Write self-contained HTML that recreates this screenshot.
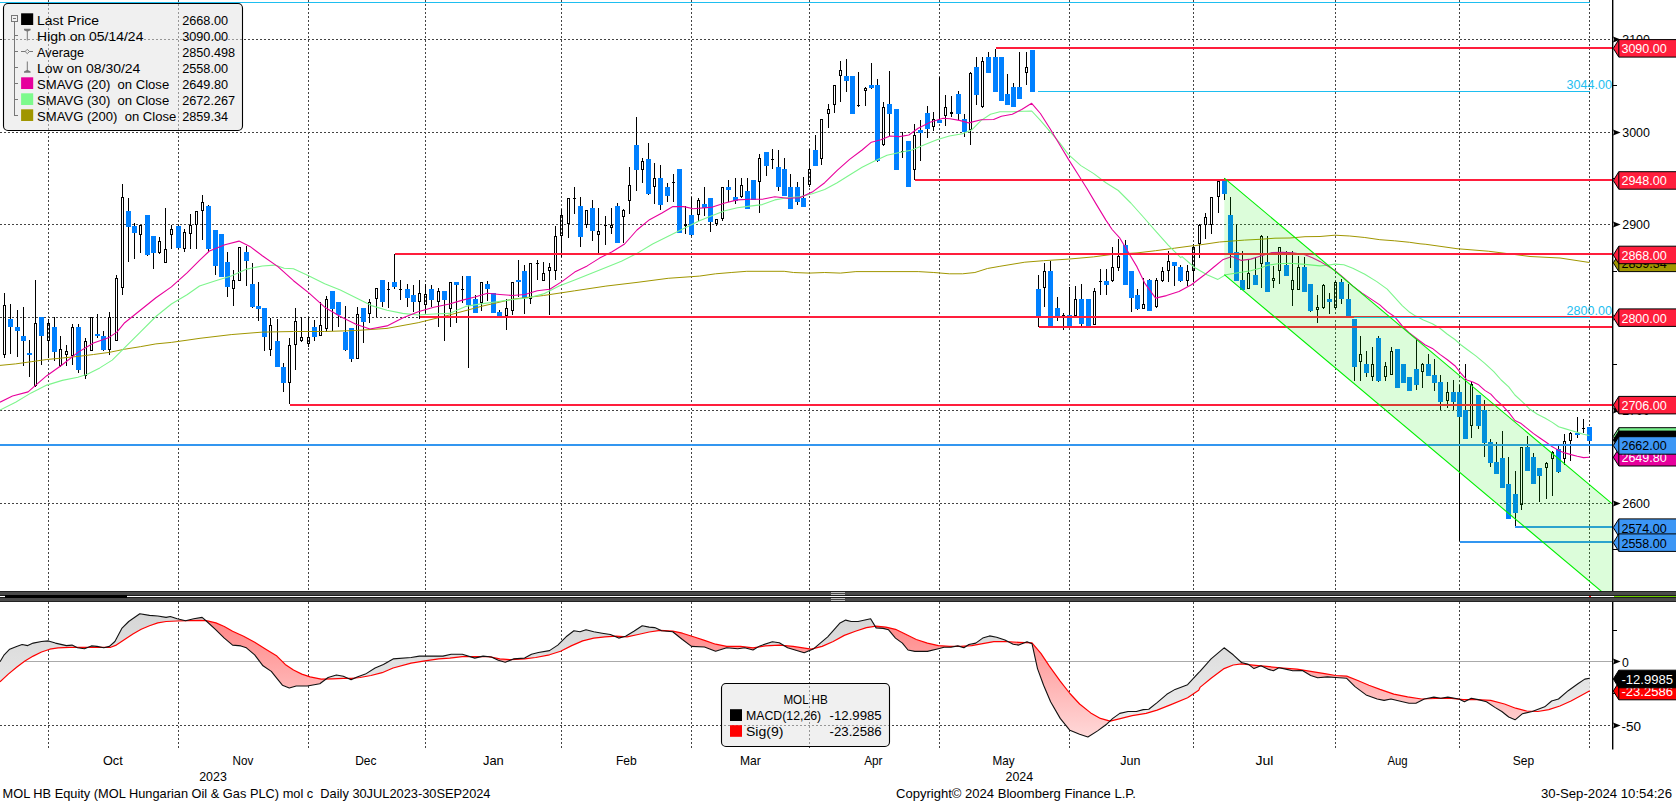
<!DOCTYPE html><html><head><meta charset="utf-8"><title>MOL HB Equity</title>
<style>html,body{margin:0;padding:0;background:#fff;overflow:hidden}svg{display:block}text{font-family:"Liberation Sans",sans-serif}</style></head><body>
<svg width="1676" height="802" viewBox="0 0 1676 802">
<defs><linearGradient id="rg" gradientUnits="userSpaceOnUse" x1="0" y1="612" x2="0" y2="745"><stop offset="0" stop-color="#ff8080"/><stop offset="1" stop-color="#ffdede"/></linearGradient>
<linearGradient id="gg" gradientUnits="userSpaceOnUse" x1="0" y1="612" x2="0" y2="745"><stop offset="0" stop-color="#d6d6d6"/><stop offset="1" stop-color="#f2f2f2"/></linearGradient>
<clipPath id="main"><rect x="0" y="0" width="1612" height="591"/></clipPath></defs>
<rect width="1676" height="802" fill="#fff"/>
<g stroke="#444" stroke-width="1" stroke-dasharray="2 2" shape-rendering="crispEdges" fill="none">
<line x1="0" y1="39.5" x2="1612" y2="39.5"/>
<line x1="0" y1="132.5" x2="1612" y2="132.5"/>
<line x1="0" y1="224.5" x2="1612" y2="224.5"/>
<line x1="0" y1="317.5" x2="1612" y2="317.5"/>
<line x1="0" y1="410.5" x2="1612" y2="410.5"/>
<line x1="0" y1="503.5" x2="1612" y2="503.5"/>
<line x1="48.5" y1="0" x2="48.5" y2="591"/>
<line x1="48.5" y1="602" x2="48.5" y2="748"/>
<line x1="178.5" y1="0" x2="178.5" y2="591"/>
<line x1="178.5" y1="602" x2="178.5" y2="748"/>
<line x1="308.5" y1="0" x2="308.5" y2="591"/>
<line x1="308.5" y1="602" x2="308.5" y2="748"/>
<line x1="425.5" y1="0" x2="425.5" y2="591"/>
<line x1="425.5" y1="602" x2="425.5" y2="748"/>
<line x1="561.5" y1="0" x2="561.5" y2="591"/>
<line x1="561.5" y1="602" x2="561.5" y2="748"/>
<line x1="691.5" y1="0" x2="691.5" y2="591"/>
<line x1="691.5" y1="602" x2="691.5" y2="748"/>
<line x1="809.5" y1="0" x2="809.5" y2="591"/>
<line x1="809.5" y1="602" x2="809.5" y2="748"/>
<line x1="939.5" y1="0" x2="939.5" y2="591"/>
<line x1="939.5" y1="602" x2="939.5" y2="748"/>
<line x1="1069.5" y1="0" x2="1069.5" y2="591"/>
<line x1="1069.5" y1="602" x2="1069.5" y2="748"/>
<line x1="1193.5" y1="0" x2="1193.5" y2="591"/>
<line x1="1193.5" y1="602" x2="1193.5" y2="748"/>
<line x1="1335.5" y1="0" x2="1335.5" y2="591"/>
<line x1="1335.5" y1="602" x2="1335.5" y2="748"/>
<line x1="1459.5" y1="0" x2="1459.5" y2="591"/>
<line x1="1459.5" y1="602" x2="1459.5" y2="748"/>
<line x1="1589.5" y1="0" x2="1589.5" y2="591"/>
<line x1="1589.5" y1="602" x2="1589.5" y2="748"/>
<line x1="0" y1="725.5" x2="1612" y2="725.5"/>
</g>
<line x1="0" y1="661.5" x2="1612" y2="661.5" stroke="#aaa" stroke-width="1" shape-rendering="crispEdges"/>
<g clip-path="url(#main)">
<g shape-rendering="crispEdges">
<path d="M4 293h1v12h-1zM4 355h1v3h-1zM3 305h3v50h-3zM4 306h1v48h-1z" fill="#000" fill-rule="evenodd"/>
<rect x="10" y="304" width="1" height="50" fill="#000"/>
<rect x="8" y="319" width="5" height="8" fill="#0080ff"/>
<rect x="17" y="310" width="1" height="47" fill="#000"/>
<rect x="15" y="327" width="5" height="4" fill="#0080ff"/>
<rect x="23" y="307" width="1" height="59" fill="#000"/>
<rect x="21" y="336" width="5" height="5" fill="#0080ff"/>
<rect x="29" y="340" width="1" height="37" fill="#000"/>
<rect x="27" y="353" width="5" height="2" fill="#0080ff"/>
<path d="M35 280h1v43h-1zM35 386h1v1h-1zM34 323h3v63h-3zM35 324h1v61h-1z" fill="#000" fill-rule="evenodd"/>
<rect x="41" y="317" width="1" height="48" fill="#000"/>
<rect x="39" y="317" width="5" height="19" fill="#0080ff"/>
<path d="M48 319h1v4h-1zM48 341h1v17h-1zM47 323h3v18h-3zM48 324h1v16h-1z" fill="#000" fill-rule="evenodd"/>
<rect x="54" y="317" width="1" height="44" fill="#000"/>
<rect x="52" y="327" width="5" height="25" fill="#0080ff"/>
<path d="M60 336h1v13h-1zM60 366h1v1h-1zM59 349h3v17h-3zM60 350h1v15h-1z" fill="#000" fill-rule="evenodd"/>
<path d="M66 345h1v6h-1zM66 355h1v11h-1zM65 351h3v4h-3zM66 352h1v2h-1z" fill="#000" fill-rule="evenodd"/>
<path d="M72 324h1v3h-1zM72 356h1v9h-1zM71 327h3v29h-3zM72 328h1v27h-1z" fill="#000" fill-rule="evenodd"/>
<rect x="78" y="324" width="1" height="49" fill="#000"/>
<rect x="76" y="327" width="5" height="43" fill="#0080ff"/>
<path d="M85 338h1v3h-1zM85 376h1v3h-1zM84 341h3v35h-3zM85 342h1v33h-1z" fill="#000" fill-rule="evenodd"/>
<path d="M90 317h3v34h-3zM91 318h1v32h-1z" fill="#000" fill-rule="evenodd"/>
<rect x="97" y="314" width="1" height="24" fill="#000"/>
<rect x="95" y="334" width="5" height="2" fill="#0080ff"/>
<rect x="103" y="331" width="1" height="20" fill="#000"/>
<rect x="101" y="336" width="5" height="14" fill="#0080ff"/>
<path d="M109 312h1v5h-1zM109 350h1v5h-1zM108 317h3v33h-3zM109 318h1v31h-1z" fill="#000" fill-rule="evenodd"/>
<path d="M116 275h1v3h-1zM115 278h3v63h-3zM116 279h1v61h-1z" fill="#000" fill-rule="evenodd"/>
<path d="M122 184h1v13h-1zM122 288h1v7h-1zM121 197h3v91h-3zM122 198h1v89h-1z" fill="#000" fill-rule="evenodd"/>
<rect x="128" y="198" width="1" height="64" fill="#000"/>
<rect x="126" y="211" width="5" height="16" fill="#0080ff"/>
<rect x="134" y="223" width="1" height="36" fill="#000"/>
<rect x="132" y="226" width="5" height="7" fill="#0080ff"/>
<path d="M140 235h1v18h-1zM139 225h3v10h-3zM140 226h1v8h-1z" fill="#000" fill-rule="evenodd"/>
<rect x="147" y="215" width="1" height="41" fill="#000"/>
<rect x="145" y="215" width="5" height="40" fill="#0080ff"/>
<rect x="153" y="236" width="1" height="33" fill="#000"/>
<rect x="151" y="236" width="5" height="17" fill="#0080ff"/>
<path d="M159 237h1v4h-1zM159 253h1v1h-1zM158 241h3v12h-3zM159 242h1v10h-1z" fill="#000" fill-rule="evenodd"/>
<path d="M165 208h1v41h-1zM164 249h3v14h-3zM165 250h1v12h-1z" fill="#000" fill-rule="evenodd"/>
<path d="M171 225h1v4h-1zM171 235h1v14h-1zM170 229h3v6h-3zM171 230h1v4h-1z" fill="#000" fill-rule="evenodd"/>
<rect x="178" y="225" width="1" height="24" fill="#000"/>
<rect x="176" y="226" width="5" height="22" fill="#0080ff"/>
<path d="M184 229h1v3h-1zM184 249h1v3h-1zM183 232h3v17h-3zM184 233h1v15h-1z" fill="#000" fill-rule="evenodd"/>
<path d="M190 214h1v11h-1zM190 234h1v15h-1zM189 225h3v9h-3zM190 226h1v7h-1z" fill="#000" fill-rule="evenodd"/>
<path d="M196 225h1v24h-1zM195 211h3v14h-3zM196 212h1v12h-1z" fill="#000" fill-rule="evenodd"/>
<path d="M202 195h1v7h-1zM202 211h1v29h-1zM201 202h3v9h-3zM202 203h1v7h-1z" fill="#000" fill-rule="evenodd"/>
<rect x="208" y="205" width="1" height="47" fill="#000"/>
<rect x="206" y="206" width="5" height="43" fill="#0080ff"/>
<rect x="215" y="230" width="1" height="45" fill="#000"/>
<rect x="213" y="230" width="5" height="36" fill="#0080ff"/>
<rect x="221" y="234" width="1" height="43" fill="#000"/>
<rect x="219" y="234" width="5" height="43" fill="#0080ff"/>
<rect x="227" y="252" width="1" height="45" fill="#000"/>
<rect x="225" y="262" width="5" height="25" fill="#0080ff"/>
<path d="M233 270h1v10h-1zM233 289h1v17h-1zM232 280h3v9h-3zM233 281h1v7h-1z" fill="#000" fill-rule="evenodd"/>
<path d="M238 247h3v34h-3zM239 248h1v32h-1z" fill="#000" fill-rule="evenodd"/>
<rect x="246" y="246" width="1" height="40" fill="#000"/>
<rect x="244" y="252" width="5" height="9" fill="#0080ff"/>
<rect x="252" y="263" width="1" height="45" fill="#000"/>
<rect x="250" y="284" width="5" height="23" fill="#0080ff"/>
<rect x="258" y="282" width="1" height="39" fill="#000"/>
<rect x="256" y="306" width="5" height="3" fill="#0080ff"/>
<rect x="264" y="308" width="1" height="43" fill="#000"/>
<rect x="262" y="308" width="5" height="29" fill="#0080ff"/>
<path d="M270 318h1v7h-1zM270 350h1v6h-1zM269 325h3v25h-3zM270 326h1v23h-1z" fill="#000" fill-rule="evenodd"/>
<rect x="277" y="319" width="1" height="48" fill="#000"/>
<rect x="275" y="341" width="5" height="26" fill="#0080ff"/>
<rect x="283" y="363" width="1" height="29" fill="#000"/>
<rect x="281" y="367" width="5" height="16" fill="#0080ff"/>
<path d="M289 338h1v7h-1zM289 383h1v21h-1zM288 345h3v38h-3zM289 346h1v36h-1z" fill="#000" fill-rule="evenodd"/>
<path d="M295 308h1v13h-1zM295 345h1v25h-1zM294 321h3v24h-3zM295 322h1v22h-1z" fill="#000" fill-rule="evenodd"/>
<path d="M301 317h1v20h-1zM301 341h1v1h-1zM300 337h3v4h-3zM301 338h1v2h-1z" fill="#000" fill-rule="evenodd"/>
<path d="M308 317h1v20h-1zM308 344h1v3h-1zM307 337h3v7h-3zM308 338h1v5h-1z" fill="#000" fill-rule="evenodd"/>
<rect x="314" y="320" width="1" height="21" fill="#000"/>
<rect x="312" y="327" width="5" height="10" fill="#0080ff"/>
<path d="M320 302h1v23h-1zM319 325h3v11h-3zM320 326h1v9h-1z" fill="#000" fill-rule="evenodd"/>
<path d="M326 296h1v3h-1zM326 329h1v3h-1zM325 299h3v30h-3zM326 300h1v28h-1z" fill="#000" fill-rule="evenodd"/>
<rect x="332" y="291" width="1" height="40" fill="#000"/>
<rect x="330" y="291" width="5" height="18" fill="#0080ff"/>
<rect x="338" y="302" width="1" height="25" fill="#000"/>
<rect x="336" y="302" width="5" height="13" fill="#0080ff"/>
<rect x="345" y="306" width="1" height="45" fill="#000"/>
<rect x="343" y="332" width="5" height="18" fill="#0080ff"/>
<rect x="351" y="328" width="1" height="34" fill="#000"/>
<rect x="349" y="328" width="5" height="31" fill="#0080ff"/>
<path d="M357 307h1v7h-1zM356 314h3v45h-3zM357 315h1v43h-1z" fill="#000" fill-rule="evenodd"/>
<rect x="363" y="308" width="1" height="35" fill="#000"/>
<rect x="361" y="308" width="5" height="14" fill="#0080ff"/>
<path d="M369 299h1v3h-1zM369 314h1v9h-1zM368 302h3v12h-3zM369 303h1v10h-1z" fill="#000" fill-rule="evenodd"/>
<path d="M376 299h1v18h-1zM375 288h3v11h-3zM376 289h1v9h-1z" fill="#000" fill-rule="evenodd"/>
<rect x="382" y="280" width="1" height="27" fill="#000"/>
<rect x="380" y="280" width="5" height="22" fill="#0080ff"/>
<rect x="388" y="282" width="1" height="26" fill="#000"/>
<rect x="387" y="289" width="3" height="1" fill="#000"/>
<rect x="394" y="254" width="1" height="35" fill="#000"/>
<rect x="392" y="282" width="5" height="5" fill="#0080ff"/>
<rect x="400" y="280" width="1" height="20" fill="#000"/>
<rect x="399" y="289" width="3" height="1" fill="#000"/>
<rect x="407" y="284" width="1" height="23" fill="#000"/>
<rect x="405" y="289" width="5" height="9" fill="#0080ff"/>
<rect x="413" y="285" width="1" height="27" fill="#000"/>
<rect x="411" y="295" width="5" height="7" fill="#0080ff"/>
<path d="M419 280h1v13h-1zM419 302h1v17h-1zM418 293h3v9h-3zM419 294h1v7h-1z" fill="#000" fill-rule="evenodd"/>
<path d="M425 284h1v10h-1zM425 305h1v8h-1zM424 294h3v11h-3zM425 295h1v9h-1z" fill="#000" fill-rule="evenodd"/>
<rect x="431" y="285" width="1" height="22" fill="#000"/>
<rect x="429" y="289" width="5" height="11" fill="#0080ff"/>
<path d="M438 288h1v3h-1zM438 302h1v25h-1zM437 291h3v11h-3zM438 292h1v9h-1z" fill="#000" fill-rule="evenodd"/>
<rect x="444" y="291" width="1" height="50" fill="#000"/>
<rect x="442" y="291" width="5" height="9" fill="#0080ff"/>
<path d="M450 309h1v18h-1zM449 282h3v27h-3zM450 283h1v25h-1z" fill="#000" fill-rule="evenodd"/>
<rect x="456" y="282" width="1" height="41" fill="#000"/>
<rect x="454" y="282" width="5" height="3" fill="#0080ff"/>
<rect x="462" y="276" width="1" height="27" fill="#000"/>
<rect x="461" y="289" width="3" height="1" fill="#000"/>
<rect x="468" y="276" width="1" height="92" fill="#000"/>
<rect x="466" y="276" width="5" height="29" fill="#0080ff"/>
<rect x="475" y="295" width="1" height="18" fill="#000"/>
<rect x="473" y="299" width="5" height="14" fill="#0080ff"/>
<path d="M481 303h1v8h-1zM480 282h3v21h-3zM481 283h1v19h-1z" fill="#000" fill-rule="evenodd"/>
<rect x="487" y="281" width="1" height="20" fill="#000"/>
<rect x="485" y="284" width="5" height="5" fill="#0080ff"/>
<rect x="493" y="293" width="1" height="20" fill="#000"/>
<rect x="491" y="293" width="5" height="20" fill="#0080ff"/>
<rect x="499" y="310" width="1" height="6" fill="#000"/>
<rect x="497" y="312" width="5" height="4" fill="#0080ff"/>
<path d="M506 299h1v9h-1zM506 316h1v14h-1zM505 308h3v8h-3zM506 309h1v6h-1z" fill="#000" fill-rule="evenodd"/>
<path d="M512 311h1v4h-1zM511 282h3v29h-3zM512 283h1v27h-1z" fill="#000" fill-rule="evenodd"/>
<rect x="518" y="260" width="1" height="37" fill="#000"/>
<rect x="516" y="280" width="5" height="2" fill="#0080ff"/>
<rect x="524" y="265" width="1" height="49" fill="#000"/>
<rect x="522" y="271" width="5" height="27" fill="#0080ff"/>
<path d="M530 299h1v5h-1zM529 263h3v36h-3zM530 264h1v34h-1z" fill="#000" fill-rule="evenodd"/>
<rect x="537" y="260" width="1" height="20" fill="#000"/>
<rect x="536" y="263" width="3" height="1" fill="#000"/>
<path d="M543 262h1v11h-1zM542 273h3v8h-3zM543 274h1v6h-1z" fill="#000" fill-rule="evenodd"/>
<path d="M549 263h1v4h-1zM549 271h1v44h-1zM548 267h3v4h-3zM549 268h1v2h-1z" fill="#000" fill-rule="evenodd"/>
<path d="M555 226h1v10h-1zM555 271h1v9h-1zM554 236h3v35h-3zM555 237h1v33h-1z" fill="#000" fill-rule="evenodd"/>
<path d="M561 209h1v6h-1zM561 236h1v21h-1zM560 215h3v21h-3zM561 216h1v19h-1z" fill="#000" fill-rule="evenodd"/>
<path d="M568 224h1v14h-1zM567 198h3v26h-3zM568 199h1v24h-1z" fill="#000" fill-rule="evenodd"/>
<rect x="574" y="187" width="1" height="27" fill="#000"/>
<rect x="573" y="198" width="3" height="1" fill="#000"/>
<rect x="580" y="197" width="1" height="50" fill="#000"/>
<rect x="578" y="206" width="5" height="31" fill="#0080ff"/>
<path d="M586 225h1v3h-1zM585 210h3v15h-3zM586 211h1v13h-1z" fill="#000" fill-rule="evenodd"/>
<rect x="592" y="200" width="1" height="41" fill="#000"/>
<rect x="590" y="208" width="5" height="23" fill="#0080ff"/>
<path d="M598 208h1v23h-1zM598 235h1v18h-1zM597 231h3v4h-3zM598 232h1v2h-1z" fill="#000" fill-rule="evenodd"/>
<rect x="605" y="216" width="1" height="29" fill="#000"/>
<rect x="604" y="225" width="3" height="1" fill="#000"/>
<path d="M611 208h1v17h-1zM611 228h1v6h-1zM610 225h3v3h-3zM611 226h1v1h-1z" fill="#000" fill-rule="evenodd"/>
<rect x="617" y="203" width="1" height="40" fill="#000"/>
<rect x="615" y="206" width="5" height="37" fill="#0080ff"/>
<path d="M623 209h1v1h-1zM623 217h1v26h-1zM622 210h3v7h-3zM623 211h1v5h-1z" fill="#000" fill-rule="evenodd"/>
<path d="M629 167h1v18h-1zM629 201h1v13h-1zM628 185h3v16h-3zM629 186h1v14h-1z" fill="#000" fill-rule="evenodd"/>
<rect x="636" y="117" width="1" height="74" fill="#000"/>
<rect x="634" y="145" width="5" height="25" fill="#0080ff"/>
<path d="M642 158h1v3h-1zM642 170h1v13h-1zM641 161h3v9h-3zM642 162h1v7h-1z" fill="#000" fill-rule="evenodd"/>
<rect x="648" y="143" width="1" height="52" fill="#000"/>
<rect x="646" y="159" width="5" height="35" fill="#0080ff"/>
<path d="M654 163h1v15h-1zM654 187h1v17h-1zM653 178h3v9h-3zM654 179h1v7h-1z" fill="#000" fill-rule="evenodd"/>
<rect x="660" y="165" width="1" height="45" fill="#000"/>
<rect x="658" y="178" width="5" height="27" fill="#0080ff"/>
<rect x="667" y="183" width="1" height="19" fill="#000"/>
<rect x="665" y="187" width="5" height="9" fill="#0080ff"/>
<rect x="673" y="174" width="1" height="28" fill="#000"/>
<rect x="672" y="182" width="3" height="1" fill="#000"/>
<rect x="679" y="169" width="1" height="64" fill="#000"/>
<rect x="677" y="169" width="5" height="64" fill="#0080ff"/>
<path d="M685 206h1v18h-1zM685 226h1v8h-1zM684 224h3v2h-3z" fill="#000" fill-rule="evenodd"/>
<rect x="691" y="197" width="1" height="39" fill="#000"/>
<rect x="689" y="215" width="5" height="20" fill="#0080ff"/>
<path d="M698 198h1v2h-1zM698 215h1v6h-1zM697 200h3v15h-3zM698 201h1v13h-1z" fill="#000" fill-rule="evenodd"/>
<rect x="704" y="187" width="1" height="29" fill="#000"/>
<rect x="702" y="204" width="5" height="4" fill="#0080ff"/>
<rect x="710" y="198" width="1" height="34" fill="#000"/>
<rect x="708" y="198" width="5" height="24" fill="#0080ff"/>
<path d="M716 224h1v2h-1zM715 219h3v5h-3zM716 220h1v3h-1z" fill="#000" fill-rule="evenodd"/>
<path d="M722 219h1v2h-1zM721 187h3v32h-3zM722 188h1v30h-1z" fill="#000" fill-rule="evenodd"/>
<rect x="728" y="180" width="1" height="22" fill="#000"/>
<rect x="726" y="187" width="5" height="3" fill="#0080ff"/>
<rect x="735" y="178" width="1" height="26" fill="#000"/>
<rect x="733" y="197" width="5" height="4" fill="#0080ff"/>
<path d="M741 178h1v7h-1zM741 197h1v1h-1zM740 185h3v12h-3zM741 186h1v10h-1z" fill="#000" fill-rule="evenodd"/>
<rect x="747" y="178" width="1" height="31" fill="#000"/>
<rect x="745" y="191" width="5" height="18" fill="#0080ff"/>
<rect x="753" y="180" width="1" height="20" fill="#000"/>
<rect x="751" y="180" width="5" height="20" fill="#0080ff"/>
<path d="M759 154h1v4h-1zM759 182h1v31h-1zM758 158h3v24h-3zM759 159h1v22h-1z" fill="#000" fill-rule="evenodd"/>
<rect x="766" y="152" width="1" height="24" fill="#000"/>
<rect x="764" y="152" width="5" height="14" fill="#0080ff"/>
<rect x="772" y="149" width="1" height="20" fill="#000"/>
<rect x="771" y="159" width="3" height="1" fill="#000"/>
<rect x="778" y="150" width="1" height="41" fill="#000"/>
<rect x="776" y="167" width="5" height="20" fill="#0080ff"/>
<rect x="784" y="158" width="1" height="38" fill="#000"/>
<rect x="782" y="169" width="5" height="27" fill="#0080ff"/>
<rect x="790" y="174" width="1" height="35" fill="#000"/>
<rect x="788" y="187" width="5" height="22" fill="#0080ff"/>
<rect x="797" y="182" width="1" height="23" fill="#000"/>
<rect x="795" y="187" width="5" height="15" fill="#0080ff"/>
<rect x="803" y="177" width="1" height="30" fill="#000"/>
<rect x="801" y="198" width="5" height="9" fill="#0080ff"/>
<path d="M809 149h1v20h-1zM809 185h1v2h-1zM808 169h3v16h-3zM809 170h1v14h-1z" fill="#000" fill-rule="evenodd"/>
<rect x="815" y="135" width="1" height="31" fill="#000"/>
<rect x="813" y="150" width="5" height="16" fill="#0080ff"/>
<path d="M821 159h1v6h-1zM820 119h3v40h-3zM821 120h1v38h-1z" fill="#000" fill-rule="evenodd"/>
<path d="M828 104h1v5h-1zM828 114h1v14h-1zM827 109h3v5h-3zM828 110h1v3h-1z" fill="#000" fill-rule="evenodd"/>
<path d="M834 105h1v8h-1zM833 85h3v20h-3zM834 86h1v18h-1z" fill="#000" fill-rule="evenodd"/>
<path d="M840 61h1v9h-1zM840 76h1v26h-1zM839 70h3v6h-3zM840 71h1v4h-1z" fill="#000" fill-rule="evenodd"/>
<rect x="846" y="59" width="1" height="33" fill="#000"/>
<rect x="844" y="76" width="5" height="5" fill="#0080ff"/>
<rect x="852" y="76" width="1" height="38" fill="#000"/>
<rect x="850" y="76" width="5" height="38" fill="#0080ff"/>
<rect x="858" y="72" width="1" height="35" fill="#000"/>
<rect x="857" y="105" width="3" height="1" fill="#000"/>
<path d="M865 87h1v1h-1zM865 91h1v15h-1zM864 88h3v3h-3zM865 89h1v1h-1z" fill="#000" fill-rule="evenodd"/>
<rect x="871" y="63" width="1" height="26" fill="#000"/>
<rect x="869" y="85" width="5" height="3" fill="#0080ff"/>
<rect x="877" y="79" width="1" height="83" fill="#000"/>
<rect x="875" y="85" width="5" height="76" fill="#0080ff"/>
<path d="M883 102h1v5h-1zM883 145h1v1h-1zM882 107h3v38h-3zM883 108h1v36h-1z" fill="#000" fill-rule="evenodd"/>
<rect x="889" y="71" width="1" height="65" fill="#000"/>
<rect x="887" y="104" width="5" height="10" fill="#0080ff"/>
<rect x="896" y="109" width="1" height="61" fill="#000"/>
<rect x="894" y="109" width="5" height="61" fill="#0080ff"/>
<rect x="902" y="132" width="1" height="26" fill="#000"/>
<rect x="901" y="151" width="3" height="1" fill="#000"/>
<rect x="908" y="141" width="1" height="46" fill="#000"/>
<rect x="906" y="141" width="5" height="46" fill="#0080ff"/>
<path d="M914 124h1v11h-1zM914 170h1v10h-1zM913 135h3v35h-3zM914 136h1v33h-1z" fill="#000" fill-rule="evenodd"/>
<rect x="920" y="120" width="1" height="41" fill="#000"/>
<rect x="918" y="130" width="5" height="3" fill="#0080ff"/>
<rect x="927" y="106" width="1" height="32" fill="#000"/>
<rect x="925" y="113" width="5" height="16" fill="#0080ff"/>
<path d="M933 112h1v7h-1zM933 127h1v4h-1zM932 119h3v8h-3zM933 120h1v6h-1z" fill="#000" fill-rule="evenodd"/>
<rect x="939" y="77" width="1" height="46" fill="#000"/>
<rect x="937" y="120" width="5" height="3" fill="#0080ff"/>
<path d="M945 95h1v12h-1zM945 116h1v10h-1zM944 107h3v9h-3zM945 108h1v7h-1z" fill="#000" fill-rule="evenodd"/>
<path d="M951 96h1v16h-1zM951 114h1v3h-1zM950 112h3v2h-3z" fill="#000" fill-rule="evenodd"/>
<rect x="958" y="91" width="1" height="29" fill="#000"/>
<rect x="956" y="94" width="5" height="20" fill="#0080ff"/>
<rect x="964" y="114" width="1" height="23" fill="#000"/>
<rect x="962" y="119" width="5" height="13" fill="#0080ff"/>
<path d="M970 72h1v1h-1zM970 130h1v15h-1zM969 73h3v57h-3zM970 74h1v55h-1z" fill="#000" fill-rule="evenodd"/>
<rect x="976" y="57" width="1" height="48" fill="#000"/>
<rect x="974" y="67" width="5" height="28" fill="#0080ff"/>
<path d="M982 57h1v4h-1zM982 107h1v1h-1zM981 61h3v46h-3zM982 62h1v44h-1z" fill="#000" fill-rule="evenodd"/>
<rect x="988" y="52" width="1" height="21" fill="#000"/>
<rect x="986" y="57" width="5" height="16" fill="#0080ff"/>
<rect x="995" y="49" width="1" height="43" fill="#000"/>
<rect x="993" y="57" width="5" height="35" fill="#0080ff"/>
<rect x="1001" y="57" width="1" height="44" fill="#000"/>
<rect x="999" y="57" width="5" height="44" fill="#0080ff"/>
<rect x="1007" y="74" width="1" height="31" fill="#000"/>
<rect x="1005" y="94" width="5" height="11" fill="#0080ff"/>
<rect x="1013" y="83" width="1" height="24" fill="#000"/>
<rect x="1011" y="87" width="5" height="20" fill="#0080ff"/>
<rect x="1019" y="52" width="1" height="47" fill="#000"/>
<rect x="1017" y="87" width="5" height="12" fill="#0080ff"/>
<path d="M1026 52h1v15h-1zM1026 73h1v12h-1zM1025 67h3v6h-3zM1026 68h1v4h-1z" fill="#000" fill-rule="evenodd"/>
<rect x="1032" y="50" width="1" height="42" fill="#000"/>
<rect x="1030" y="50" width="5" height="42" fill="#0080ff"/>
<rect x="1038" y="275" width="1" height="52" fill="#000"/>
<rect x="1036" y="289" width="5" height="27" fill="#0080ff"/>
<path d="M1044 263h1v8h-1zM1044 288h1v19h-1zM1043 271h3v17h-3zM1044 272h1v15h-1z" fill="#000" fill-rule="evenodd"/>
<rect x="1050" y="261" width="1" height="65" fill="#000"/>
<rect x="1048" y="271" width="5" height="55" fill="#0080ff"/>
<rect x="1057" y="297" width="1" height="24" fill="#000"/>
<rect x="1055" y="308" width="5" height="8" fill="#0080ff"/>
<rect x="1063" y="313" width="1" height="17" fill="#000"/>
<rect x="1062" y="315" width="3" height="1" fill="#000"/>
<rect x="1069" y="287" width="1" height="40" fill="#000"/>
<rect x="1067" y="315" width="5" height="11" fill="#0080ff"/>
<path d="M1075 286h1v13h-1zM1074 299h3v17h-3zM1075 300h1v15h-1z" fill="#000" fill-rule="evenodd"/>
<rect x="1081" y="284" width="1" height="42" fill="#000"/>
<rect x="1079" y="299" width="5" height="25" fill="#0080ff"/>
<rect x="1088" y="299" width="1" height="27" fill="#000"/>
<rect x="1086" y="299" width="5" height="27" fill="#0080ff"/>
<path d="M1094 288h1v3h-1zM1093 291h3v34h-3zM1094 292h1v32h-1z" fill="#000" fill-rule="evenodd"/>
<rect x="1100" y="269" width="1" height="26" fill="#000"/>
<rect x="1099" y="281" width="3" height="1" fill="#000"/>
<rect x="1106" y="269" width="1" height="26" fill="#000"/>
<rect x="1104" y="281" width="5" height="4" fill="#0080ff"/>
<path d="M1112 247h1v20h-1zM1112 281h1v1h-1zM1111 267h3v14h-3zM1112 268h1v12h-1z" fill="#000" fill-rule="evenodd"/>
<path d="M1118 239h1v17h-1zM1118 268h1v3h-1zM1117 256h3v12h-3zM1118 257h1v10h-1z" fill="#000" fill-rule="evenodd"/>
<rect x="1125" y="240" width="1" height="45" fill="#000"/>
<rect x="1123" y="245" width="5" height="40" fill="#0080ff"/>
<rect x="1131" y="271" width="1" height="41" fill="#000"/>
<rect x="1129" y="271" width="5" height="27" fill="#0080ff"/>
<rect x="1137" y="289" width="1" height="21" fill="#000"/>
<rect x="1135" y="295" width="5" height="14" fill="#0080ff"/>
<path d="M1143 278h1v26h-1zM1142 304h3v5h-3zM1143 305h1v3h-1z" fill="#000" fill-rule="evenodd"/>
<rect x="1149" y="279" width="1" height="32" fill="#000"/>
<rect x="1147" y="280" width="5" height="31" fill="#0080ff"/>
<path d="M1156 278h1v2h-1zM1156 307h1v1h-1zM1155 280h3v27h-3zM1156 281h1v25h-1z" fill="#000" fill-rule="evenodd"/>
<path d="M1162 267h1v4h-1zM1162 281h1v1h-1zM1161 271h3v10h-3zM1162 272h1v8h-1z" fill="#000" fill-rule="evenodd"/>
<path d="M1168 251h1v10h-1zM1168 271h1v11h-1zM1167 261h3v10h-3zM1168 262h1v8h-1z" fill="#000" fill-rule="evenodd"/>
<rect x="1174" y="262" width="1" height="24" fill="#000"/>
<rect x="1172" y="262" width="5" height="4" fill="#0080ff"/>
<rect x="1180" y="265" width="1" height="17" fill="#000"/>
<rect x="1178" y="267" width="5" height="14" fill="#0080ff"/>
<path d="M1187 265h1v6h-1zM1187 281h1v5h-1zM1186 271h3v10h-3zM1187 272h1v8h-1z" fill="#000" fill-rule="evenodd"/>
<path d="M1193 244h1v3h-1zM1193 271h1v11h-1zM1192 247h3v24h-3zM1193 248h1v22h-1z" fill="#000" fill-rule="evenodd"/>
<path d="M1199 224h1v1h-1zM1199 244h1v14h-1zM1198 225h3v19h-3zM1199 226h1v17h-1z" fill="#000" fill-rule="evenodd"/>
<path d="M1205 213h1v4h-1zM1205 225h1v14h-1zM1204 217h3v8h-3zM1205 218h1v6h-1z" fill="#000" fill-rule="evenodd"/>
<path d="M1211 225h1v9h-1zM1210 197h3v28h-3zM1211 198h1v26h-1z" fill="#000" fill-rule="evenodd"/>
<path d="M1218 197h1v16h-1zM1217 181h3v16h-3zM1218 182h1v14h-1z" fill="#000" fill-rule="evenodd"/>
<rect x="1224" y="178" width="1" height="22" fill="#000"/>
<rect x="1222" y="179" width="5" height="15" fill="#0080ff"/>
<rect x="1230" y="197" width="1" height="71" fill="#000"/>
<rect x="1228" y="215" width="5" height="39" fill="#0080ff"/>
<rect x="1236" y="224" width="1" height="57" fill="#000"/>
<rect x="1234" y="252" width="5" height="29" fill="#0080ff"/>
<rect x="1242" y="251" width="1" height="39" fill="#000"/>
<rect x="1240" y="280" width="5" height="10" fill="#0080ff"/>
<path d="M1248 260h1v13h-1zM1247 273h3v16h-3zM1248 274h1v14h-1z" fill="#000" fill-rule="evenodd"/>
<rect x="1255" y="257" width="1" height="28" fill="#000"/>
<rect x="1253" y="275" width="5" height="10" fill="#0080ff"/>
<path d="M1261 235h1v1h-1zM1261 264h1v24h-1zM1260 236h3v28h-3zM1261 237h1v26h-1z" fill="#000" fill-rule="evenodd"/>
<rect x="1267" y="236" width="1" height="56" fill="#000"/>
<rect x="1265" y="262" width="5" height="30" fill="#0080ff"/>
<path d="M1273 266h1v12h-1zM1273 281h1v7h-1zM1272 278h3v3h-3zM1273 279h1v1h-1z" fill="#000" fill-rule="evenodd"/>
<path d="M1279 271h1v13h-1zM1278 247h3v24h-3zM1279 248h1v22h-1z" fill="#000" fill-rule="evenodd"/>
<rect x="1286" y="251" width="1" height="25" fill="#000"/>
<rect x="1284" y="265" width="5" height="11" fill="#0080ff"/>
<path d="M1292 251h1v29h-1zM1292 290h1v16h-1zM1291 280h3v10h-3zM1292 281h1v8h-1z" fill="#000" fill-rule="evenodd"/>
<path d="M1298 256h1v11h-1zM1297 267h3v23h-3zM1298 268h1v21h-1z" fill="#000" fill-rule="evenodd"/>
<rect x="1304" y="257" width="1" height="35" fill="#000"/>
<rect x="1302" y="267" width="5" height="25" fill="#0080ff"/>
<rect x="1310" y="284" width="1" height="28" fill="#000"/>
<rect x="1308" y="284" width="5" height="27" fill="#0080ff"/>
<path d="M1317 295h1v12h-1zM1317 310h1v13h-1zM1316 307h3v3h-3zM1317 308h1v1h-1z" fill="#000" fill-rule="evenodd"/>
<path d="M1323 284h1v1h-1zM1323 308h1v1h-1zM1322 285h3v23h-3zM1323 286h1v21h-1z" fill="#000" fill-rule="evenodd"/>
<rect x="1329" y="293" width="1" height="21" fill="#000"/>
<rect x="1327" y="299" width="5" height="3" fill="#0080ff"/>
<path d="M1335 281h1v1h-1zM1335 308h1v1h-1zM1334 282h3v26h-3zM1335 283h1v24h-1z" fill="#000" fill-rule="evenodd"/>
<rect x="1341" y="279" width="1" height="25" fill="#000"/>
<rect x="1339" y="282" width="5" height="17" fill="#0080ff"/>
<rect x="1348" y="284" width="1" height="33" fill="#000"/>
<rect x="1346" y="299" width="5" height="18" fill="#0080ff"/>
<rect x="1354" y="319" width="1" height="62" fill="#000"/>
<rect x="1352" y="319" width="5" height="48" fill="#0080ff"/>
<path d="M1360 336h1v18h-1zM1360 362h1v19h-1zM1359 354h3v8h-3zM1360 355h1v6h-1z" fill="#000" fill-rule="evenodd"/>
<rect x="1366" y="351" width="1" height="26" fill="#000"/>
<rect x="1364" y="364" width="5" height="9" fill="#0080ff"/>
<path d="M1372 347h1v17h-1zM1372 377h1v4h-1zM1371 364h3v13h-3zM1372 365h1v11h-1z" fill="#000" fill-rule="evenodd"/>
<rect x="1378" y="336" width="1" height="46" fill="#000"/>
<rect x="1376" y="338" width="5" height="43" fill="#0080ff"/>
<path d="M1385 362h1v4h-1zM1385 377h1v4h-1zM1384 366h3v11h-3zM1385 367h1v9h-1z" fill="#000" fill-rule="evenodd"/>
<path d="M1391 347h1v4h-1zM1390 351h3v24h-3zM1391 352h1v22h-1z" fill="#000" fill-rule="evenodd"/>
<rect x="1397" y="349" width="1" height="39" fill="#000"/>
<rect x="1395" y="349" width="5" height="39" fill="#0080ff"/>
<rect x="1403" y="364" width="1" height="19" fill="#000"/>
<rect x="1401" y="364" width="5" height="19" fill="#0080ff"/>
<rect x="1409" y="377" width="1" height="14" fill="#000"/>
<rect x="1407" y="377" width="5" height="14" fill="#0080ff"/>
<rect x="1416" y="339" width="1" height="51" fill="#000"/>
<rect x="1414" y="369" width="5" height="16" fill="#0080ff"/>
<path d="M1422 363h1v1h-1zM1422 372h1v16h-1zM1421 364h3v8h-3zM1422 365h1v6h-1z" fill="#000" fill-rule="evenodd"/>
<rect x="1428" y="354" width="1" height="22" fill="#000"/>
<rect x="1426" y="364" width="5" height="12" fill="#0080ff"/>
<rect x="1434" y="359" width="1" height="32" fill="#000"/>
<rect x="1432" y="375" width="5" height="8" fill="#0080ff"/>
<rect x="1440" y="375" width="1" height="35" fill="#000"/>
<rect x="1438" y="382" width="5" height="20" fill="#0080ff"/>
<path d="M1447 382h1v10h-1zM1447 401h1v7h-1zM1446 392h3v9h-3zM1447 393h1v7h-1z" fill="#000" fill-rule="evenodd"/>
<rect x="1453" y="380" width="1" height="30" fill="#000"/>
<rect x="1451" y="392" width="5" height="10" fill="#0080ff"/>
<rect x="1459" y="385" width="1" height="156" fill="#000"/>
<rect x="1457" y="392" width="5" height="25" fill="#0080ff"/>
<rect x="1465" y="364" width="1" height="75" fill="#000"/>
<rect x="1463" y="410" width="5" height="29" fill="#0080ff"/>
<path d="M1471 382h1v2h-1zM1471 426h1v12h-1zM1470 384h3v42h-3zM1471 385h1v40h-1z" fill="#000" fill-rule="evenodd"/>
<rect x="1478" y="395" width="1" height="34" fill="#000"/>
<rect x="1476" y="395" width="5" height="31" fill="#0080ff"/>
<rect x="1484" y="400" width="1" height="57" fill="#000"/>
<rect x="1482" y="410" width="5" height="33" fill="#0080ff"/>
<rect x="1490" y="439" width="1" height="28" fill="#000"/>
<rect x="1488" y="442" width="5" height="21" fill="#0080ff"/>
<rect x="1496" y="442" width="1" height="32" fill="#000"/>
<rect x="1494" y="462" width="5" height="12" fill="#0080ff"/>
<rect x="1502" y="431" width="1" height="57" fill="#000"/>
<rect x="1500" y="458" width="5" height="30" fill="#0080ff"/>
<rect x="1508" y="457" width="1" height="62" fill="#000"/>
<rect x="1506" y="484" width="5" height="35" fill="#0080ff"/>
<rect x="1515" y="471" width="1" height="55" fill="#000"/>
<rect x="1513" y="494" width="5" height="19" fill="#0080ff"/>
<path d="M1521 505h1v5h-1zM1520 447h3v58h-3zM1521 448h1v56h-1z" fill="#000" fill-rule="evenodd"/>
<rect x="1527" y="436" width="1" height="35" fill="#000"/>
<rect x="1525" y="447" width="5" height="24" fill="#0080ff"/>
<rect x="1533" y="453" width="1" height="31" fill="#000"/>
<rect x="1531" y="457" width="5" height="27" fill="#0080ff"/>
<rect x="1539" y="468" width="1" height="34" fill="#000"/>
<rect x="1537" y="468" width="5" height="8" fill="#0080ff"/>
<path d="M1546 462h1v1h-1zM1546 468h1v31h-1zM1545 463h3v5h-3zM1546 464h1v3h-1z" fill="#000" fill-rule="evenodd"/>
<path d="M1552 451h1v1h-1zM1552 459h1v37h-1zM1551 452h3v7h-3zM1552 453h1v5h-1z" fill="#000" fill-rule="evenodd"/>
<rect x="1558" y="445" width="1" height="28" fill="#000"/>
<rect x="1556" y="449" width="5" height="23" fill="#0080ff"/>
<path d="M1564 434h1v7h-1zM1564 459h1v6h-1zM1563 441h3v18h-3zM1564 442h1v16h-1z" fill="#000" fill-rule="evenodd"/>
<path d="M1570 432h1v1h-1zM1570 441h1v20h-1zM1569 433h3v8h-3zM1570 434h1v6h-1z" fill="#000" fill-rule="evenodd"/>
<rect x="1577" y="417" width="1" height="21" fill="#000"/>
<rect x="1575" y="433" width="5" height="2" fill="#0080ff"/>
<path d="M1583 419h1v9h-1zM1583 429h1v4h-1zM1582 428h3v1h-3z" fill="#000" fill-rule="evenodd"/>
<rect x="1589" y="427" width="1" height="25" fill="#000"/>
<rect x="1587" y="427" width="5" height="14" fill="#0080ff"/>
</g>
<polyline points="0.0,365.4 15.6,363.9 31.2,361.7 46.8,359.5 62.3,358.0 77.9,356.4 93.5,354.5 109.1,352.4 124.7,349.2 140.3,346.7 155.9,343.9 171.4,342.4 187.0,340.2 200.0,338.3 231.2,334.6 262.3,332.1 293.5,331.5 324.7,331.5 355.9,330.5 387.0,328.4 418.2,322.7 449.4,315.0 481.2,306.4 512.3,299.2 543.5,295.5 574.7,290.8 605.9,286.1 637.0,282.4 668.2,278.3 699.4,276.1 715.6,273.8 731.2,272.5 746.8,271.3 784.2,271.3 793.5,272.5 809.1,273.1 824.7,272.5 840.3,273.1 855.9,271.6 918.2,271.6 933.8,272.5 949.4,273.8 962.5,273.8 974.9,272.5 987.4,268.5 999.9,266.3 1024.8,262.2 1043.5,260.7 1068.5,259.1 1093.4,256.9 1112.1,254.4 1137.0,252.9 1155.7,250.7 1174.4,248.2 1193.1,245.7 1194.6,245.7 1219.5,242.0 1244.4,240.1 1260.0,239.3 1275.0,238.2 1290.0,238.0 1305.0,236.7 1320.0,236.5 1334.9,235.2 1349.8,236.0 1364.8,237.5 1379.8,239.7 1394.7,240.8 1409.7,242.3 1420.0,243.8 1425.9,244.3 1457.0,248.7 1488.2,251.2 1513.1,254.3 1530.0,256.5 1560.0,258.0 1589.5,262.5" fill="none" stroke="#a09600" stroke-width="1.0" stroke-linejoin="round"/>
<polyline points="0.0,410.0 15.6,402.2 31.2,392.9 46.8,385.1 62.3,380.4 77.9,377.3 87.3,374.2 99.8,367.9 112.2,360.1 124.7,347.7 140.3,332.1 155.9,316.5 171.4,304.0 187.0,294.7 199.5,286.0 215.6,280.7 231.2,276.0 246.8,269.1 262.3,266.0 274.8,265.1 284.2,268.2 293.5,268.8 309.1,276.0 324.7,283.8 340.3,290.0 355.9,297.8 371.4,305.6 387.0,310.3 402.6,313.4 418.2,315.0 433.8,314.0 449.4,313.4 465.6,306.4 481.2,303.9 496.8,301.7 512.3,299.5 527.9,298.0 543.5,293.9 559.1,286.1 574.7,279.9 590.3,273.7 605.9,267.4 621.4,261.2 637.0,253.4 652.6,244.0 668.2,236.2 683.8,228.5 699.4,220.7 712.5,215.5 724.9,210.8 737.4,207.7 749.9,206.1 762.3,204.6 774.8,199.9 787.3,197.7 799.8,196.8 812.2,193.7 824.7,189.6 837.2,182.7 849.6,175.0 862.1,167.2 874.6,160.9 887.0,155.3 899.5,152.5 912.0,150.0 924.4,144.7 936.9,139.7 949.4,136.0 962.5,133.8 971.8,129.8 981.2,120.4 990.5,114.2 999.9,111.7 1012.3,111.7 1031.7,111.0 1040.4,120.4 1049.8,131.3 1059.1,142.2 1068.5,154.7 1080.9,165.6 1093.4,173.4 1105.9,182.7 1118.3,190.5 1130.8,203.0 1143.3,217.0 1155.7,231.1 1168.2,245.1 1180.7,257.6 1182.1,256.6 1194.6,267.5 1207.0,274.7 1217.9,279.4 1225.7,274.7 1238.2,272.8 1250.7,270.7 1260.0,268.2 1267.5,265.2 1278.0,263.7 1290.0,263.2 1305.0,264.4 1320.0,265.9 1327.4,265.2 1334.9,264.1 1343.8,264.7 1352.8,268.2 1364.8,274.2 1376.8,281.6 1387.2,289.1 1394.7,297.4 1402.2,305.6 1409.7,312.3 1415.7,316.1 1423.4,320.0 1432.4,323.7 1439.9,328.2 1447.4,334.2 1454.9,339.5 1460.8,344.7 1466.8,349.2 1475.8,355.9 1484.8,363.4 1493.8,371.6 1501.2,380.0 1508.7,386.9 1514.9,395.0 1522.4,401.8 1529.9,409.3 1537.4,414.3 1544.9,418.0 1552.3,422.4 1558.6,426.8 1564.8,428.6 1571.0,430.5 1577.3,432.4 1583.5,434.2 1589.4,435.5" fill="none" stroke="#7df58c" stroke-width="1.1" stroke-linejoin="round"/>
<polyline points="0.0,402.2 12.5,396.0 28.1,391.9 35.8,385.1 46.8,375.7 62.3,364.8 77.9,352.4 93.5,343.0 109.1,337.4 116.9,332.1 124.7,322.7 140.3,310.3 155.9,297.8 171.4,286.9 187.0,272.9 199.5,260.4 209.4,251.0 224.9,244.8 239.0,241.1 249.9,246.4 262.3,255.7 277.9,266.6 293.5,280.7 309.1,293.1 324.7,307.2 340.3,316.5 355.9,324.3 369.9,329.0 387.0,325.9 402.6,318.1 418.2,311.8 433.8,307.2 449.4,304.0 462.5,300.1 474.9,297.0 487.4,293.3 499.9,294.5 512.3,295.5 524.8,294.5 537.3,290.8 549.8,289.2 562.2,281.4 574.7,272.1 587.2,265.9 599.6,258.1 612.1,251.8 624.6,244.0 637.0,230.0 649.5,219.7 662.0,212.9 672.9,206.6 683.8,206.6 693.1,208.8 712.5,207.1 724.9,203.0 737.4,199.9 749.9,199.3 762.3,199.3 774.8,196.8 787.3,198.3 799.8,197.7 812.2,192.1 824.7,182.7 837.2,170.3 849.6,159.4 862.1,150.0 871.4,142.2 880.8,139.7 890.1,136.0 899.5,136.6 908.9,135.0 918.2,128.2 930.7,122.0 943.1,118.2 950.0,118.8 959.4,120.4 968.7,122.9 981.2,119.8 993.6,119.5 1001.4,116.3 1012.3,114.2 1021.7,109.5 1031.7,103.3 1040.4,113.5 1049.8,128.2 1059.1,143.8 1068.5,159.4 1077.8,174.0 1087.2,189.0 1096.5,204.6 1105.9,220.1 1112.1,229.5 1119.9,238.2 1127.7,251.3 1137.0,266.9 1144.7,283.1 1155.6,298.1 1166.5,295.6 1179.0,291.5 1191.4,284.7 1203.9,275.3 1213.3,267.5 1222.6,259.8 1232.0,256.6 1241.3,260.4 1250.7,259.1 1260.0,256.2 1272.0,252.5 1282.5,252.2 1293.0,252.8 1305.0,254.7 1312.4,257.7 1319.9,261.4 1327.4,265.9 1334.9,270.4 1343.8,277.9 1352.8,286.1 1361.8,292.9 1370.8,298.9 1379.8,304.9 1387.2,311.6 1394.7,316.8 1402.2,325.8 1409.7,333.3 1415.9,338.0 1424.9,344.7 1432.4,348.4 1439.9,354.4 1447.4,359.7 1454.9,365.7 1460.8,373.1 1466.8,379.9 1472.8,382.1 1478.1,384.4 1484.8,390.4 1490.8,394.1 1496.2,400.0 1502.5,405.6 1508.7,412.4 1514.9,420.5 1521.2,423.6 1527.4,428.6 1533.6,433.6 1539.9,438.0 1546.1,442.3 1552.3,446.7 1558.6,450.4 1564.8,452.9 1571.0,454.6 1577.3,456.3 1583.5,457.6 1589.4,457.3" fill="none" stroke="#e8009c" stroke-width="1.1" stroke-linejoin="round"/>
<line x1="0.0" y1="2.5" x2="1589.5" y2="2.5" stroke="#1ebef0" stroke-width="1.4" shape-rendering="crispEdges"/>
<line x1="1038.0" y1="91.5" x2="1589.5" y2="91.5" stroke="#1ebef0" stroke-width="1.4" shape-rendering="crispEdges"/>
<line x1="995.5" y1="48.0" x2="1612.0" y2="48.0" stroke="#ff1e3c" stroke-width="2.0" shape-rendering="crispEdges"/>
<line x1="914.5" y1="180.0" x2="1612.0" y2="180.0" stroke="#ff1e3c" stroke-width="2.0" shape-rendering="crispEdges"/>
<line x1="394.5" y1="254.0" x2="1612.0" y2="254.0" stroke="#ff1e3c" stroke-width="2.0" shape-rendering="crispEdges"/>
<line x1="419.5" y1="317.0" x2="1612.0" y2="317.0" stroke="#ff1e3c" stroke-width="2.0" shape-rendering="crispEdges"/>
<line x1="1038.7" y1="327.0" x2="1612.0" y2="327.0" stroke="#ff1e3c" stroke-width="2.0" shape-rendering="crispEdges"/>
<line x1="289.5" y1="405.0" x2="1612.0" y2="405.0" stroke="#ff1e3c" stroke-width="2.0" shape-rendering="crispEdges"/>
<line x1="1354.0" y1="317.5" x2="1589.5" y2="317.5" stroke="#1ebef0" stroke-width="1.0" shape-rendering="crispEdges"/>
<line x1="0.0" y1="445.0" x2="1612.0" y2="445.0" stroke="#3296f0" stroke-width="2.0" shape-rendering="crispEdges"/>
<line x1="1515.4" y1="526.5" x2="1612.0" y2="526.5" stroke="#3296f0" stroke-width="2.0" shape-rendering="crispEdges"/>
<line x1="1459.6" y1="541.5" x2="1612.0" y2="541.5" stroke="#3296f0" stroke-width="2.0" shape-rendering="crispEdges"/>
<polygon points="1224.3,178.1 1612.0,503.6 1612.0,600.2 1224.3,274.7" fill="#10f000" fill-opacity="0.145"/>
<line x1="1224.3" y1="178.1" x2="1612" y2="503.6" stroke="#00f000" stroke-width="1.1"/>
<line x1="1224.3" y1="274.7" x2="1612" y2="600.2" stroke="#00f000" stroke-width="1.1"/>
</g>
<text x="1566.6" y="89.3" font-size="13.0" fill="#1ebef0" textLength="45.4" lengthAdjust="spacingAndGlyphs">3044.00</text>
<text x="1566.6" y="315.2" font-size="13.0" fill="#1ebef0" textLength="45.4" lengthAdjust="spacingAndGlyphs">2800.00</text>
<polygon points="0.0,661.7 1.0,660.0 2.0,658.3 3.0,656.7 4.0,655.0 5.0,653.9 6.0,652.9 7.0,651.9 8.0,650.9 9.0,649.9 10.0,649.1 11.0,648.7 12.0,648.3 13.0,647.9 14.0,647.5 15.0,647.1 16.0,646.7 17.0,646.3 18.0,646.0 19.0,645.6 20.0,645.3 21.0,644.9 22.0,644.6 23.0,644.7 24.0,644.9 25.0,645.1 26.0,645.3 27.0,645.5 28.0,645.5 29.0,645.0 30.0,644.6 31.0,644.1 32.0,643.7 33.0,643.2 34.0,643.0 35.0,642.8 36.0,642.6 37.0,642.4 38.0,642.2 39.0,642.0 40.0,641.8 41.0,641.6 42.0,641.4 43.0,641.3 44.0,641.3 45.0,641.2 46.0,641.1 47.0,641.0 48.0,640.9 49.0,641.1 50.0,641.4 51.0,641.7 52.0,642.0 53.0,642.4 54.0,642.7 55.0,643.0 56.0,643.3 57.0,643.5 58.0,643.7 59.0,643.9 60.0,644.2 61.0,644.4 62.0,644.6 63.0,644.8 64.0,645.1 65.0,645.3 66.0,645.5 67.0,645.6 68.0,645.5 69.0,645.4 70.0,645.3 71.0,645.2 72.0,645.1 73.0,645.6 74.0,646.1 75.0,646.6 76.0,647.1 77.0,647.6 77.0,647.3 76.0,647.3 75.0,647.3 74.0,647.3 73.0,647.3 72.0,647.3 71.0,647.3 70.0,647.3 69.0,647.3 68.0,647.3 67.0,647.4 66.0,647.4 65.0,647.5 64.0,647.5 63.0,647.6 62.0,647.6 61.0,647.7 60.0,647.7 59.0,647.8 58.0,647.9 57.0,648.0 56.0,648.2 55.0,648.4 54.0,648.5 53.0,648.7 52.0,648.9 51.0,649.0 50.0,649.2 49.0,649.5 48.0,649.8 47.0,650.2 46.0,650.5 45.0,650.8 44.0,651.2 43.0,651.5 42.0,651.8 41.0,652.2 40.0,652.7 39.0,653.2 38.0,653.7 37.0,654.2 36.0,654.7 35.0,655.2 34.0,655.7 33.0,656.3 32.0,656.9 31.0,657.5 30.0,658.1 29.0,658.7 28.0,659.3 27.0,659.9 26.0,660.5 25.0,661.1 24.0,661.8 23.0,662.5 22.0,663.3 21.0,664.0 20.0,664.7 19.0,665.5 18.0,666.2 17.0,666.9 16.0,667.7 15.0,668.6 14.0,669.4 13.0,670.2 12.0,671.1 11.0,671.9 10.0,672.7 9.0,673.6 8.0,674.4 7.0,675.3 6.0,676.3 5.0,677.2 4.0,678.1 3.0,679.1 2.0,680.0 1.0,680.9 0.0,681.9" fill="url(#gg)"/>
<polygon points="77.0,647.6 78.0,647.9 79.0,648.0 80.0,648.1 81.0,648.2 82.0,648.4 83.0,648.5 84.0,648.6 85.0,648.4 86.0,648.0 87.0,647.6 88.0,647.2 88.0,647.3 87.0,647.3 86.0,647.3 85.0,647.3 84.0,647.3 83.0,647.3 82.0,647.3 81.0,647.3 80.0,647.3 79.0,647.3 78.0,647.3 77.0,647.3" fill="url(#rg)"/>
<polygon points="88.0,647.2 89.0,646.8 90.0,646.4 91.0,646.0 92.0,646.0 93.0,646.1 94.0,646.2 95.0,646.3 96.0,646.4 97.0,646.5 98.0,646.7 99.0,646.9 100.0,647.1 101.0,647.3 102.0,647.5 102.0,647.3 101.0,647.3 100.0,647.3 99.0,647.3 98.0,647.3 97.0,647.3 96.0,647.3 95.0,647.3 94.0,647.3 93.0,647.3 92.0,647.3 91.0,647.3 90.0,647.3 89.0,647.3 88.0,647.3" fill="url(#gg)"/>
<polygon points="102.0,647.5 103.0,647.7 104.0,647.8 105.0,647.5 106.0,647.3 107.0,647.0 107.0,647.3 106.0,647.3 105.0,647.3 104.0,647.3 103.0,647.3 102.0,647.3" fill="url(#rg)"/>
<polygon points="107.0,647.0 108.0,646.8 109.0,646.5 110.0,645.9 111.0,645.0 112.0,644.1 113.0,643.2 114.0,642.3 115.0,641.3 116.0,639.4 117.0,637.5 118.0,635.6 119.0,633.7 120.0,631.9 121.0,630.0 122.0,628.3 123.0,627.3 124.0,626.3 125.0,625.3 126.0,624.3 127.0,623.3 128.0,622.3 129.0,621.3 130.0,620.6 131.0,619.9 132.0,619.2 133.0,618.5 134.0,617.8 135.0,617.1 136.0,616.4 137.0,615.7 138.0,615.0 139.0,614.3 140.0,613.8 141.0,614.0 142.0,614.2 143.0,614.3 144.0,614.5 145.0,614.7 146.0,614.8 147.0,615.0 148.0,615.2 149.0,615.4 150.0,615.5 151.0,615.5 152.0,615.6 153.0,615.7 154.0,615.7 155.0,615.8 156.0,615.9 157.0,615.9 158.0,616.0 159.0,616.2 160.0,616.4 161.0,616.5 162.0,616.7 163.0,616.9 164.0,617.0 165.0,617.2 166.0,617.4 167.0,617.2 168.0,617.0 169.0,616.8 170.0,616.6 171.0,616.8 172.0,617.1 173.0,617.4 174.0,617.7 175.0,618.1 176.0,618.4 177.0,618.7 178.0,618.9 179.0,619.2 180.0,619.4 181.0,619.6 182.0,619.9 183.0,620.1 184.0,620.3 185.0,620.6 186.0,620.6 187.0,620.3 188.0,620.1 189.0,619.9 190.0,619.6 191.0,619.4 192.0,619.2 193.0,618.9 194.0,618.7 195.0,618.6 196.0,618.4 197.0,618.2 198.0,618.1 199.0,617.9 200.0,617.7 201.0,617.6 202.0,617.4 203.0,618.2 204.0,619.0 205.0,619.9 206.0,620.8 206.0,620.7 205.0,620.6 204.0,620.6 203.0,620.6 202.0,620.5 201.0,620.5 200.0,620.4 199.0,620.4 198.0,620.5 197.0,620.5 196.0,620.5 195.0,620.5 194.0,620.6 193.0,620.6 192.0,620.6 191.0,620.6 190.0,620.7 189.0,620.7 188.0,620.7 187.0,620.7 186.0,620.8 185.0,620.8 184.0,620.8 183.0,620.8 182.0,620.9 181.0,620.9 180.0,620.9 179.0,620.9 178.0,621.0 177.0,621.0 176.0,621.0 175.0,621.1 174.0,621.1 173.0,621.2 172.0,621.2 171.0,621.3 170.0,621.3 169.0,621.4 168.0,621.4 167.0,621.5 166.0,621.5 165.0,621.7 164.0,621.9 163.0,622.0 162.0,622.2 161.0,622.4 160.0,622.5 159.0,622.7 158.0,622.9 157.0,623.2 156.0,623.5 155.0,623.8 154.0,624.2 153.0,624.5 152.0,624.8 151.0,625.2 150.0,625.5 149.0,625.9 148.0,626.3 147.0,626.8 146.0,627.2 145.0,627.6 144.0,628.1 143.0,628.5 142.0,628.9 141.0,629.4 140.0,630.0 139.0,630.5 138.0,631.1 137.0,631.7 136.0,632.2 135.0,632.8 134.0,633.4 133.0,633.9 132.0,634.6 131.0,635.2 130.0,635.9 129.0,636.6 128.0,637.2 127.0,637.9 126.0,638.6 125.0,639.2 124.0,639.9 123.0,640.6 122.0,641.2 121.0,641.9 120.0,642.6 119.0,643.2 118.0,643.9 117.0,644.6 116.0,645.2 115.0,645.6 114.0,646.0 113.0,646.4 112.0,646.8 111.0,647.2 110.0,647.3 109.0,647.3 108.0,647.3 107.0,647.3" fill="url(#gg)"/>
<polygon points="206.0,620.8 207.0,621.7 208.0,622.6 209.0,623.5 210.0,624.4 211.0,625.3 212.0,626.2 213.0,627.1 214.0,628.1 215.0,629.0 216.0,629.9 217.0,630.9 218.0,631.9 219.0,632.9 220.0,633.9 221.0,634.9 222.0,635.9 223.0,636.9 224.0,637.9 225.0,638.8 226.0,639.6 227.0,640.4 228.0,641.3 229.0,642.1 230.0,642.9 231.0,643.8 232.0,644.6 233.0,645.1 234.0,645.2 235.0,645.3 236.0,645.4 237.0,645.5 238.0,645.6 239.0,645.7 240.0,645.8 241.0,645.9 242.0,646.3 243.0,646.6 244.0,647.0 245.0,647.3 246.0,647.7 247.0,648.3 248.0,649.2 249.0,650.0 250.0,650.8 251.0,651.7 252.0,652.5 253.0,653.3 254.0,654.2 255.0,655.1 256.0,656.5 257.0,657.8 258.0,659.1 259.0,660.5 260.0,661.8 261.0,663.1 262.0,664.5 263.0,665.8 264.0,666.5 265.0,667.2 266.0,667.8 267.0,668.5 268.0,669.2 269.0,669.8 270.0,670.5 271.0,671.2 272.0,672.2 273.0,673.5 274.0,674.7 275.0,676.0 276.0,677.2 277.0,678.5 278.0,679.7 279.0,681.0 280.0,682.2 281.0,683.5 282.0,684.7 283.0,685.4 284.0,685.8 285.0,686.2 286.0,686.6 287.0,687.0 288.0,687.4 289.0,687.8 290.0,687.8 291.0,687.5 292.0,687.2 293.0,686.9 294.0,686.7 295.0,686.4 296.0,686.1 297.0,686.0 298.0,686.0 299.0,686.0 300.0,686.0 301.0,686.0 302.0,686.0 303.0,686.0 304.0,686.0 305.0,686.0 306.0,686.0 307.0,686.0 308.0,685.9 309.0,685.7 310.0,685.6 311.0,685.4 312.0,685.2 313.0,685.0 314.0,684.8 315.0,684.7 316.0,684.5 317.0,684.3 318.0,684.1 319.0,684.0 320.0,683.6 321.0,682.9 322.0,682.1 323.0,681.3 324.0,680.6 325.0,679.8 326.0,679.0 327.0,678.3 327.0,679.0 326.0,679.0 325.0,679.0 324.0,679.0 323.0,679.1 322.0,679.1 321.0,679.1 320.0,678.9 319.0,678.7 318.0,678.5 317.0,678.3 316.0,678.1 315.0,677.9 314.0,677.7 313.0,677.5 312.0,677.3 311.0,677.1 310.0,676.9 309.0,676.5 308.0,676.2 307.0,675.9 306.0,675.5 305.0,675.2 304.0,674.9 303.0,674.5 302.0,674.2 301.0,673.7 300.0,673.2 299.0,672.7 298.0,672.2 297.0,671.7 296.0,671.2 295.0,670.7 294.0,670.2 293.0,669.7 292.0,669.0 291.0,668.3 290.0,667.7 289.0,667.0 288.0,666.3 287.0,665.7 286.0,665.0 285.0,664.3 284.0,663.3 283.0,662.3 282.0,661.3 281.0,660.3 280.0,659.3 279.0,658.3 278.0,657.3 277.0,656.3 276.0,655.6 275.0,655.0 274.0,654.4 273.0,653.7 272.0,653.1 271.0,652.5 270.0,651.9 269.0,651.2 268.0,650.6 267.0,650.0 266.0,649.4 265.0,648.7 264.0,648.1 263.0,647.5 262.0,646.9 261.0,646.2 260.0,645.6 259.0,645.0 258.0,644.4 257.0,643.7 256.0,643.1 255.0,642.5 254.0,641.9 253.0,641.4 252.0,640.8 251.0,640.3 250.0,639.7 249.0,639.2 248.0,638.6 247.0,638.1 246.0,637.5 245.0,637.0 244.0,636.4 243.0,635.9 242.0,635.5 241.0,635.0 240.0,634.6 239.0,634.1 238.0,633.7 237.0,633.2 236.0,632.8 235.0,632.3 234.0,631.9 233.0,631.4 232.0,630.9 231.0,630.3 230.0,629.8 229.0,629.2 228.0,628.6 227.0,628.1 226.0,627.5 225.0,626.9 224.0,626.4 223.0,626.0 222.0,625.5 221.0,625.1 220.0,624.7 219.0,624.2 218.0,623.8 217.0,623.4 216.0,622.9 215.0,622.7 214.0,622.5 213.0,622.2 212.0,622.0 211.0,621.8 210.0,621.6 209.0,621.3 208.0,621.1 207.0,620.9 206.0,620.7" fill="url(#rg)"/>
<polygon points="327.0,678.3 328.0,677.5 329.0,677.2 330.0,676.9 331.0,676.6 332.0,676.3 333.0,676.0 334.0,675.7 335.0,675.4 336.0,675.1 337.0,675.1 338.0,675.3 339.0,675.5 340.0,675.7 341.0,675.9 342.0,676.1 343.0,676.3 344.0,676.6 345.0,677.1 346.0,677.5 347.0,677.9 348.0,678.4 348.0,678.3 347.0,678.3 346.0,678.3 345.0,678.3 344.0,678.3 343.0,678.3 342.0,678.3 341.0,678.4 340.0,678.4 339.0,678.5 338.0,678.5 337.0,678.6 336.0,678.6 335.0,678.7 334.0,678.7 333.0,678.8 332.0,678.8 331.0,678.9 330.0,678.9 329.0,678.9 328.0,678.9 327.0,679.0" fill="url(#gg)"/>
<polygon points="348.0,678.4 349.0,678.8 350.0,679.2 351.0,679.6 352.0,679.2 353.0,678.8 354.0,678.3 355.0,677.9 355.0,677.9 354.0,678.0 353.0,678.1 352.0,678.2 351.0,678.3 350.0,678.3 349.0,678.3 348.0,678.3" fill="url(#rg)"/>
<polygon points="355.0,677.9 356.0,677.4 357.0,677.0 358.0,676.6 359.0,676.3 360.0,675.9 361.0,675.6 362.0,675.3 363.0,674.9 364.0,674.6 365.0,674.3 366.0,673.8 367.0,673.2 368.0,672.5 369.0,671.9 370.0,671.3 371.0,670.6 372.0,670.0 373.0,669.4 374.0,668.8 375.0,668.1 376.0,667.7 377.0,667.2 378.0,666.8 379.0,666.4 380.0,665.9 381.0,665.5 382.0,665.1 383.0,664.6 384.0,664.1 385.0,663.6 386.0,663.0 387.0,662.4 388.0,661.8 389.0,661.3 390.0,660.7 391.0,660.1 392.0,659.6 393.0,659.0 394.0,658.8 395.0,658.8 396.0,658.7 397.0,658.6 398.0,658.5 399.0,658.5 400.0,658.4 401.0,658.3 402.0,658.2 403.0,658.1 404.0,658.1 405.0,658.0 406.0,657.9 407.0,657.8 408.0,657.8 409.0,657.7 410.0,657.6 411.0,657.5 412.0,657.4 413.0,657.2 414.0,657.0 415.0,656.9 416.0,656.7 417.0,656.5 418.0,656.4 419.0,656.2 420.0,656.1 421.0,656.1 422.0,656.1 423.0,656.1 424.0,656.1 425.0,656.1 426.0,656.1 427.0,656.1 428.0,656.1 429.0,656.1 430.0,656.1 431.0,656.1 432.0,656.1 433.0,656.1 434.0,656.1 435.0,656.1 436.0,656.1 437.0,656.1 438.0,656.1 439.0,656.1 440.0,656.1 441.0,656.1 442.0,656.1 443.0,656.1 444.0,655.9 445.0,655.6 446.0,655.4 447.0,655.2 448.0,654.9 449.0,654.7 450.0,654.5 451.0,654.2 452.0,654.2 453.0,654.2 454.0,654.2 455.0,654.2 456.0,654.2 457.0,654.2 458.0,654.2 459.0,654.2 460.0,654.2 461.0,654.2 462.0,654.2 463.0,654.4 464.0,654.7 465.0,655.0 466.0,655.4 467.0,655.7 468.0,656.0 469.0,656.3 470.0,656.6 471.0,656.9 471.0,656.7 470.0,656.7 469.0,656.7 468.0,656.7 467.0,656.7 466.0,656.7 465.0,656.7 464.0,656.7 463.0,656.7 462.0,656.7 461.0,656.8 460.0,656.9 459.0,657.1 458.0,657.2 457.0,657.3 456.0,657.4 455.0,657.5 454.0,657.6 453.0,657.7 452.0,657.8 451.0,657.9 450.0,658.1 449.0,658.1 448.0,658.2 447.0,658.3 446.0,658.4 445.0,658.4 444.0,658.5 443.0,658.6 442.0,658.7 441.0,658.7 440.0,658.8 439.0,658.9 438.0,659.0 437.0,659.2 436.0,659.3 435.0,659.4 434.0,659.6 433.0,659.7 432.0,659.9 431.0,660.0 430.0,660.1 429.0,660.3 428.0,660.4 427.0,660.6 426.0,660.7 425.0,660.8 424.0,661.0 423.0,661.1 422.0,661.3 421.0,661.5 420.0,661.6 419.0,661.8 418.0,661.9 417.0,662.1 416.0,662.3 415.0,662.4 414.0,662.6 413.0,662.7 412.0,662.9 411.0,663.1 410.0,663.4 409.0,663.6 408.0,663.9 407.0,664.2 406.0,664.5 405.0,664.7 404.0,665.0 403.0,665.3 402.0,665.6 401.0,665.9 400.0,666.1 399.0,666.4 398.0,666.7 397.0,667.0 396.0,667.2 395.0,667.5 394.0,667.8 393.0,668.1 392.0,668.5 391.0,668.9 390.0,669.4 389.0,669.8 388.0,670.2 387.0,670.6 386.0,671.1 385.0,671.5 384.0,671.9 383.0,672.3 382.0,672.8 381.0,673.0 380.0,673.3 379.0,673.5 378.0,673.8 377.0,674.0 376.0,674.3 375.0,674.5 374.0,674.8 373.0,675.0 372.0,675.3 371.0,675.5 370.0,675.7 369.0,675.9 368.0,676.0 367.0,676.2 366.0,676.4 365.0,676.6 364.0,676.7 363.0,676.9 362.0,677.1 361.0,677.3 360.0,677.4 359.0,677.5 358.0,677.6 357.0,677.7 356.0,677.8 355.0,677.9" fill="url(#gg)"/>
<polygon points="471.0,656.9 472.0,657.2 473.0,657.5 474.0,657.8 475.0,658.0 476.0,657.8 477.0,657.5 478.0,657.3 479.0,657.1 480.0,656.8 481.0,656.6 481.0,656.7 480.0,656.7 479.0,656.7 478.0,656.7 477.0,656.7 476.0,656.7 475.0,656.7 474.0,656.7 473.0,656.7 472.0,656.7 471.0,656.7" fill="url(#rg)"/>
<polygon points="481.0,656.6 482.0,656.4 483.0,656.1 484.0,656.2 485.0,656.3 486.0,656.4 487.0,656.5 488.0,656.6 489.0,656.7 490.0,656.8 491.0,656.9 492.0,657.3 493.0,657.8 493.0,657.6 492.0,657.4 491.0,657.2 490.0,657.0 489.0,656.8 488.0,656.7 487.0,656.7 486.0,656.7 485.0,656.7 484.0,656.7 483.0,656.7 482.0,656.7 481.0,656.7" fill="url(#gg)"/>
<polygon points="493.0,657.8 494.0,658.2 495.0,658.7 496.0,659.2 497.0,659.7 498.0,660.2 499.0,660.5 500.0,660.8 501.0,661.0 502.0,661.3 503.0,661.6 504.0,661.9 505.0,662.2 506.0,661.9 507.0,661.5 508.0,661.1 509.0,660.7 510.0,660.3 511.0,659.9 512.0,659.5 512.0,659.7 511.0,659.7 510.0,659.7 509.0,659.6 508.0,659.5 507.0,659.5 506.0,659.4 505.0,659.3 504.0,659.2 503.0,659.2 502.0,659.1 501.0,659.0 500.0,658.9 499.0,658.8 498.0,658.6 497.0,658.4 496.0,658.2 495.0,658.0 494.0,657.8 493.0,657.6" fill="url(#rg)"/>
<polygon points="512.0,659.5 513.0,659.1 514.0,658.9 515.0,658.8 516.0,658.7 517.0,658.6 518.0,658.6 519.0,658.5 520.0,658.4 521.0,658.3 522.0,658.3 523.0,658.2 524.0,658.1 525.0,657.8 526.0,657.3 527.0,656.7 528.0,656.2 529.0,655.6 530.0,655.0 531.0,654.5 532.0,654.1 533.0,653.8 534.0,653.6 535.0,653.4 536.0,653.1 537.0,652.9 538.0,652.6 539.0,652.4 540.0,652.3 541.0,652.1 542.0,651.9 543.0,651.7 544.0,651.6 545.0,651.4 546.0,651.2 547.0,651.0 548.0,650.9 549.0,650.7 550.0,650.3 551.0,649.6 552.0,648.9 553.0,648.3 554.0,647.6 555.0,646.9 556.0,646.3 557.0,645.6 558.0,644.9 559.0,643.9 560.0,642.9 561.0,641.9 562.0,640.9 563.0,639.9 564.0,638.9 565.0,637.9 566.0,636.9 567.0,636.1 568.0,635.3 569.0,634.5 570.0,633.7 571.0,632.9 572.0,632.1 573.0,631.3 574.0,630.7 575.0,630.9 576.0,631.1 577.0,631.2 578.0,631.4 579.0,631.6 580.0,631.8 581.0,631.4 582.0,631.1 583.0,630.8 584.0,630.5 585.0,630.2 586.0,629.8 587.0,630.1 588.0,630.3 589.0,630.6 590.0,630.8 591.0,631.1 592.0,631.3 593.0,631.6 594.0,631.8 595.0,632.0 596.0,632.1 597.0,632.3 598.0,632.5 599.0,632.6 600.0,632.8 601.0,633.0 602.0,633.1 603.0,633.3 604.0,633.5 605.0,633.6 606.0,633.8 607.0,634.0 608.0,634.1 609.0,634.3 610.0,634.5 611.0,634.8 612.0,635.2 613.0,635.7 614.0,636.1 615.0,636.5 615.0,636.2 614.0,636.3 613.0,636.3 612.0,636.4 611.0,636.4 610.0,636.5 609.0,636.5 608.0,636.6 607.0,636.6 606.0,636.7 605.0,636.7 604.0,636.9 603.0,637.0 602.0,637.1 601.0,637.2 600.0,637.4 599.0,637.5 598.0,637.6 597.0,637.7 596.0,637.9 595.0,638.0 594.0,638.1 593.0,638.3 592.0,638.6 591.0,638.8 590.0,639.1 589.0,639.3 588.0,639.6 587.0,639.8 586.0,640.1 585.0,640.3 584.0,640.6 583.0,640.8 582.0,641.2 581.0,641.6 580.0,642.1 579.0,642.5 578.0,642.9 577.0,643.3 576.0,643.8 575.0,644.2 574.0,644.6 573.0,645.0 572.0,645.5 571.0,645.9 570.0,646.4 569.0,646.9 568.0,647.4 567.0,647.9 566.0,648.4 565.0,648.9 564.0,649.4 563.0,649.9 562.0,650.4 561.0,650.9 560.0,651.3 559.0,651.7 558.0,652.0 557.0,652.3 556.0,652.6 555.0,653.0 554.0,653.3 553.0,653.6 552.0,653.9 551.0,654.3 550.0,654.6 549.0,654.9 548.0,655.1 547.0,655.3 546.0,655.5 545.0,655.7 544.0,655.9 543.0,656.1 542.0,656.3 541.0,656.5 540.0,656.7 539.0,656.9 538.0,657.1 537.0,657.3 536.0,657.5 535.0,657.6 534.0,657.7 533.0,657.9 532.0,658.0 531.0,658.1 530.0,658.2 529.0,658.4 528.0,658.5 527.0,658.6 526.0,658.7 525.0,658.9 524.0,658.9 523.0,659.0 522.0,659.1 521.0,659.1 520.0,659.2 519.0,659.2 518.0,659.3 517.0,659.4 516.0,659.4 515.0,659.5 514.0,659.5 513.0,659.6 512.0,659.7" fill="url(#gg)"/>
<polygon points="615.0,636.5 616.0,637.0 617.0,637.4 618.0,637.8 619.0,638.1 620.0,637.8 621.0,637.5 622.0,637.2 623.0,636.9 624.0,636.7 625.0,636.4 625.0,636.7 624.0,636.6 623.0,636.6 622.0,636.5 621.0,636.5 620.0,636.4 619.0,636.4 618.0,636.3 617.0,636.3 616.0,636.2 615.0,636.2" fill="url(#rg)"/>
<polygon points="625.0,636.4 626.0,636.0 627.0,635.4 628.0,634.8 629.0,634.2 630.0,633.6 631.0,633.0 632.0,632.4 633.0,631.8 634.0,631.2 635.0,630.5 636.0,629.8 637.0,629.2 638.0,628.5 639.0,627.8 640.0,627.2 641.0,626.5 642.0,625.8 643.0,625.8 644.0,626.0 645.0,626.2 646.0,626.4 647.0,626.6 648.0,626.8 649.0,627.0 650.0,627.1 651.0,627.2 652.0,627.3 653.0,627.4 654.0,627.5 655.0,627.7 656.0,628.2 657.0,628.6 658.0,629.1 659.0,629.5 660.0,629.9 661.0,630.4 662.0,630.7 662.0,630.5 661.0,630.4 660.0,630.4 659.0,630.6 658.0,630.7 657.0,630.9 656.0,631.0 655.0,631.2 654.0,631.3 653.0,631.5 652.0,631.6 651.0,631.8 650.0,631.9 649.0,632.1 648.0,632.3 647.0,632.5 646.0,632.8 645.0,633.0 644.0,633.2 643.0,633.4 642.0,633.7 641.0,633.9 640.0,634.1 639.0,634.3 638.0,634.6 637.0,634.8 636.0,635.0 635.0,635.2 634.0,635.4 633.0,635.6 632.0,635.8 631.0,636.0 630.0,636.2 629.0,636.4 628.0,636.6 627.0,636.8 626.0,636.7 625.0,636.7" fill="url(#gg)"/>
<polygon points="662.0,630.7 663.0,630.8 664.0,630.9 665.0,631.0 666.0,631.1 667.0,631.2 668.0,631.3 669.0,631.4 670.0,631.5 671.0,631.6 672.0,631.7 673.0,632.0 674.0,632.8 675.0,633.6 676.0,634.4 677.0,635.2 678.0,636.0 679.0,636.8 680.0,637.6 681.0,638.4 682.0,639.2 683.0,640.0 684.0,640.7 685.0,641.5 686.0,642.3 687.0,643.0 688.0,643.8 689.0,644.5 690.0,645.3 691.0,646.0 692.0,646.5 693.0,646.5 694.0,646.6 695.0,646.6 696.0,646.6 697.0,646.7 698.0,646.7 699.0,646.8 700.0,646.8 701.0,646.8 702.0,646.9 703.0,646.9 704.0,647.0 705.0,647.2 706.0,647.5 707.0,647.9 708.0,648.3 709.0,648.7 710.0,649.0 711.0,649.4 712.0,649.8 713.0,650.2 714.0,650.5 715.0,650.9 716.0,651.0 717.0,650.7 718.0,650.4 719.0,650.1 720.0,649.8 721.0,649.5 722.0,649.2 723.0,648.9 724.0,648.6 725.0,648.3 726.0,648.0 727.0,647.9 728.0,647.9 729.0,648.0 730.0,648.1 731.0,648.2 732.0,648.2 733.0,648.3 734.0,648.4 735.0,648.5 736.0,648.5 737.0,648.6 738.0,648.6 739.0,648.5 740.0,648.4 741.0,648.3 742.0,648.2 743.0,648.0 744.0,647.9 745.0,647.9 746.0,648.2 747.0,648.4 748.0,648.7 749.0,649.0 750.0,649.2 751.0,649.5 752.0,649.8 753.0,650.0 754.0,649.4 755.0,648.8 756.0,648.2 757.0,647.6 758.0,647.0 758.0,647.1 757.0,647.2 756.0,647.4 755.0,647.5 754.0,647.7 753.0,647.8 752.0,647.7 751.0,647.6 750.0,647.5 749.0,647.4 748.0,647.3 747.0,647.2 746.0,647.1 745.0,646.9 744.0,646.8 743.0,646.7 742.0,646.6 741.0,646.5 740.0,646.4 739.0,646.4 738.0,646.4 737.0,646.4 736.0,646.4 735.0,646.4 734.0,646.4 733.0,646.4 732.0,646.4 731.0,646.4 730.0,646.4 729.0,646.4 728.0,646.4 727.0,646.4 726.0,646.3 725.0,646.1 724.0,645.9 723.0,645.7 722.0,645.5 721.0,645.3 720.0,645.1 719.0,644.9 718.0,644.7 717.0,644.5 716.0,644.3 715.0,644.0 714.0,643.7 713.0,643.3 712.0,643.0 711.0,642.6 710.0,642.3 709.0,641.9 708.0,641.6 707.0,641.2 706.0,640.9 705.0,640.5 704.0,640.2 703.0,639.9 702.0,639.5 701.0,639.2 700.0,638.9 699.0,638.6 698.0,638.2 697.0,637.9 696.0,637.6 695.0,637.3 694.0,636.9 693.0,636.6 692.0,636.3 691.0,636.0 690.0,635.6 689.0,635.3 688.0,635.0 687.0,634.7 686.0,634.3 685.0,634.0 684.0,633.7 683.0,633.4 682.0,633.1 681.0,632.9 680.0,632.7 679.0,632.5 678.0,632.3 677.0,632.1 676.0,631.9 675.0,631.7 674.0,631.5 673.0,631.3 672.0,631.2 671.0,631.1 670.0,631.0 669.0,631.0 668.0,630.9 667.0,630.8 666.0,630.8 665.0,630.7 664.0,630.6 663.0,630.6 662.0,630.5" fill="url(#rg)"/>
<polygon points="758.0,647.0 759.0,646.4 760.0,645.9 761.0,645.5 762.0,645.2 763.0,644.9 764.0,644.5 765.0,644.2 766.0,643.9 767.0,643.5 768.0,643.2 769.0,642.9 770.0,642.5 771.0,642.2 772.0,641.9 773.0,641.8 774.0,642.0 775.0,642.2 776.0,642.3 777.0,642.5 778.0,642.6 779.0,642.8 780.0,643.3 781.0,643.9 782.0,644.5 783.0,645.1 784.0,645.7 784.0,645.5 783.0,645.4 782.0,645.3 781.0,645.2 780.0,645.1 779.0,645.1 778.0,645.1 777.0,645.2 776.0,645.3 775.0,645.3 774.0,645.4 773.0,645.4 772.0,645.5 771.0,645.6 770.0,645.6 769.0,645.7 768.0,645.7 767.0,645.8 766.0,645.9 765.0,646.0 764.0,646.1 763.0,646.3 762.0,646.4 761.0,646.6 760.0,646.7 759.0,646.9 758.0,647.1" fill="url(#gg)"/>
<polygon points="784.0,645.7 785.0,646.3 786.0,646.9 787.0,647.5 788.0,648.0 789.0,648.3 790.0,648.6 791.0,648.9 792.0,649.2 793.0,649.5 794.0,649.8 795.0,650.1 796.0,650.4 797.0,650.7 798.0,651.0 799.0,651.3 800.0,651.6 801.0,651.9 802.0,652.2 803.0,652.5 804.0,652.8 805.0,652.4 806.0,652.0 807.0,651.6 808.0,651.2 809.0,650.7 810.0,650.3 811.0,649.9 812.0,649.4 813.0,649.0 814.0,648.5 815.0,647.7 815.0,648.2 814.0,648.5 813.0,648.7 812.0,649.0 811.0,649.2 810.0,649.0 809.0,648.9 808.0,648.7 807.0,648.6 806.0,648.4 805.0,648.3 804.0,648.1 803.0,648.0 802.0,647.8 801.0,647.7 800.0,647.5 799.0,647.4 798.0,647.2 797.0,647.0 796.0,646.9 795.0,646.7 794.0,646.6 793.0,646.4 792.0,646.3 791.0,646.2 790.0,646.1 789.0,646.0 788.0,645.9 787.0,645.8 786.0,645.7 785.0,645.6 784.0,645.5" fill="url(#rg)"/>
<polygon points="815.0,647.7 816.0,646.8 817.0,645.9 818.0,645.1 819.0,644.2 820.0,643.4 821.0,642.5 822.0,641.6 823.0,640.8 824.0,639.9 825.0,639.1 826.0,638.2 827.0,637.3 828.0,636.4 829.0,635.3 830.0,634.2 831.0,633.1 832.0,632.0 833.0,630.9 834.0,629.7 835.0,628.6 836.0,627.5 837.0,626.4 838.0,625.3 839.0,624.2 840.0,623.1 841.0,622.5 842.0,622.0 843.0,621.5 844.0,621.0 845.0,620.5 846.0,620.2 847.0,620.5 848.0,620.7 849.0,621.0 850.0,621.2 851.0,621.5 852.0,621.5 853.0,621.5 854.0,621.5 855.0,621.5 856.0,621.5 857.0,621.5 858.0,621.5 859.0,621.3 860.0,621.1 861.0,620.9 862.0,620.7 863.0,620.4 864.0,620.2 865.0,620.0 866.0,619.8 867.0,619.6 868.0,619.3 869.0,619.1 870.0,618.9 871.0,619.4 872.0,621.1 873.0,622.7 874.0,624.4 875.0,626.0 876.0,627.7 876.0,626.3 875.0,626.4 874.0,626.5 873.0,626.7 872.0,626.8 871.0,627.0 870.0,627.1 869.0,627.3 868.0,627.4 867.0,627.5 866.0,627.8 865.0,628.1 864.0,628.4 863.0,628.7 862.0,629.1 861.0,629.4 860.0,629.7 859.0,630.0 858.0,630.4 857.0,630.7 856.0,631.0 855.0,631.4 854.0,631.7 853.0,632.1 852.0,632.5 851.0,632.9 850.0,633.2 849.0,633.6 848.0,634.0 847.0,634.4 846.0,634.7 845.0,635.1 844.0,635.5 843.0,636.1 842.0,636.6 841.0,637.2 840.0,637.7 839.0,638.3 838.0,638.8 837.0,639.4 836.0,639.9 835.0,640.5 834.0,641.0 833.0,641.6 832.0,642.0 831.0,642.5 830.0,642.9 829.0,643.4 828.0,643.8 827.0,644.3 826.0,644.7 825.0,645.2 824.0,645.6 823.0,646.1 822.0,646.5 821.0,646.7 820.0,647.0 819.0,647.2 818.0,647.5 817.0,647.7 816.0,648.0 815.0,648.2" fill="url(#gg)"/>
<polygon points="876.0,627.7 877.0,628.0 878.0,628.0 879.0,628.1 880.0,628.2 881.0,628.3 882.0,628.4 883.0,628.4 884.0,628.7 885.0,628.9 886.0,629.2 887.0,629.4 888.0,629.7 889.0,630.3 890.0,631.5 891.0,632.7 892.0,633.9 893.0,635.1 894.0,636.3 895.0,637.5 896.0,638.5 897.0,639.2 898.0,639.9 899.0,640.6 900.0,641.4 901.0,642.1 902.0,642.8 903.0,643.8 904.0,645.1 905.0,646.3 906.0,647.6 907.0,648.8 908.0,650.0 909.0,650.2 910.0,650.4 911.0,650.6 912.0,650.8 913.0,651.0 914.0,651.2 915.0,651.4 916.0,651.4 917.0,651.4 918.0,651.4 919.0,651.4 920.0,651.4 921.0,651.4 922.0,651.4 923.0,651.4 924.0,651.4 925.0,651.4 926.0,651.4 927.0,651.4 928.0,651.3 929.0,651.0 930.0,650.8 931.0,650.5 932.0,650.3 933.0,650.0 934.0,649.8 935.0,649.5 936.0,649.3 937.0,649.0 938.0,648.8 939.0,648.5 940.0,648.3 941.0,648.0 942.0,647.8 943.0,647.5 944.0,647.3 945.0,647.3 946.0,647.3 947.0,647.3 948.0,647.3 949.0,647.3 950.0,647.3 951.0,647.3 952.0,647.1 953.0,646.9 954.0,646.7 955.0,646.5 956.0,646.3 956.0,646.4 955.0,646.4 954.0,646.4 953.0,646.4 952.0,646.4 951.0,646.4 950.0,646.4 949.0,646.4 948.0,646.3 947.0,646.3 946.0,646.2 945.0,646.1 944.0,646.0 943.0,646.0 942.0,645.9 941.0,645.8 940.0,645.7 939.0,645.7 938.0,645.5 937.0,645.3 936.0,645.1 935.0,644.8 934.0,644.6 933.0,644.4 932.0,644.2 931.0,643.9 930.0,643.7 929.0,643.5 928.0,643.3 927.0,643.0 926.0,642.7 925.0,642.4 924.0,642.0 923.0,641.7 922.0,641.4 921.0,641.1 920.0,640.7 919.0,640.4 918.0,640.1 917.0,639.8 916.0,639.4 915.0,638.9 914.0,638.4 913.0,637.9 912.0,637.4 911.0,636.9 910.0,636.4 909.0,635.9 908.0,635.4 907.0,634.9 906.0,634.4 905.0,633.9 904.0,633.4 903.0,632.9 902.0,632.4 901.0,631.9 900.0,631.5 899.0,631.0 898.0,630.5 897.0,630.0 896.0,629.5 895.0,629.2 894.0,628.9 893.0,628.7 892.0,628.5 891.0,628.2 890.0,628.0 889.0,627.8 888.0,627.6 887.0,627.3 886.0,627.1 885.0,627.0 884.0,626.9 883.0,626.8 882.0,626.7 881.0,626.7 880.0,626.6 879.0,626.5 878.0,626.4 877.0,626.3 876.0,626.3" fill="url(#rg)"/>
<polygon points="956.0,646.3 957.0,646.1 958.0,646.0 959.0,646.3 960.0,646.6 960.0,646.4 959.0,646.4 958.0,646.4 957.0,646.4 956.0,646.4" fill="url(#gg)"/>
<polygon points="960.0,646.6 961.0,646.9 962.0,647.2 963.0,647.5 964.0,647.8 965.0,647.1 966.0,646.4 967.0,645.8 967.0,646.0 966.0,646.0 965.0,646.1 964.0,646.2 963.0,646.3 962.0,646.3 961.0,646.4 960.0,646.4" fill="url(#rg)"/>
<polygon points="967.0,645.8 968.0,645.1 969.0,644.5 970.0,644.3 971.0,644.1 972.0,643.9 973.0,643.7 974.0,643.5 975.0,643.3 976.0,643.0 977.0,642.3 978.0,641.5 979.0,640.8 980.0,640.1 981.0,639.4 982.0,638.7 983.0,638.1 984.0,637.7 985.0,637.4 986.0,637.1 987.0,636.8 988.0,636.5 989.0,636.1 990.0,636.0 991.0,636.2 992.0,636.4 993.0,636.6 994.0,636.8 995.0,637.0 996.0,637.2 997.0,637.5 998.0,637.8 999.0,638.1 1000.0,638.5 1001.0,638.8 1002.0,639.1 1003.0,639.5 1004.0,639.8 1005.0,640.1 1006.0,640.6 1007.0,641.1 1008.0,641.6 1009.0,642.1 1009.0,641.7 1008.0,641.6 1007.0,641.6 1006.0,641.5 1005.0,641.5 1004.0,641.5 1003.0,641.5 1002.0,641.5 1001.0,641.6 1000.0,641.6 999.0,641.6 998.0,641.6 997.0,641.7 996.0,641.7 995.0,641.7 994.0,641.7 993.0,641.9 992.0,642.1 991.0,642.2 990.0,642.4 989.0,642.6 988.0,642.8 987.0,642.9 986.0,643.1 985.0,643.3 984.0,643.5 983.0,643.6 982.0,643.8 981.0,644.0 980.0,644.2 979.0,644.3 978.0,644.5 977.0,644.7 976.0,644.9 975.0,645.0 974.0,645.2 973.0,645.4 972.0,645.6 971.0,645.7 970.0,645.7 969.0,645.8 968.0,645.9 967.0,646.0" fill="url(#gg)"/>
<polygon points="1009.0,642.1 1010.0,642.6 1011.0,643.1 1012.0,643.6 1013.0,644.1 1014.0,644.4 1015.0,644.5 1016.0,644.7 1017.0,644.8 1018.0,645.0 1019.0,644.9 1020.0,644.5 1021.0,644.1 1022.0,643.7 1023.0,643.3 1024.0,642.9 1025.0,642.5 1025.0,642.6 1024.0,642.5 1023.0,642.5 1022.0,642.4 1021.0,642.4 1020.0,642.3 1019.0,642.3 1018.0,642.2 1017.0,642.2 1016.0,642.1 1015.0,642.1 1014.0,642.0 1013.0,641.9 1012.0,641.9 1011.0,641.8 1010.0,641.8 1009.0,641.7" fill="url(#rg)"/>
<polygon points="1025.0,642.5 1026.0,642.1 1027.0,641.7 1028.0,642.1 1029.0,642.5 1030.0,642.9 1030.0,642.8 1029.0,642.7 1028.0,642.7 1027.0,642.6 1026.0,642.6 1025.0,642.6" fill="url(#gg)"/>
<polygon points="1030.0,642.9 1031.0,643.3 1032.0,643.7 1033.0,648.2 1034.0,652.7 1035.0,657.2 1036.0,661.7 1037.0,666.2 1038.0,669.8 1039.0,672.6 1040.0,675.3 1041.0,678.0 1042.0,680.8 1043.0,683.5 1044.0,686.1 1045.0,688.5 1046.0,690.9 1047.0,693.3 1048.0,695.7 1049.0,698.1 1050.0,700.5 1051.0,702.6 1052.0,704.3 1053.0,706.0 1054.0,707.7 1055.0,709.4 1056.0,711.2 1057.0,712.9 1058.0,714.6 1059.0,716.3 1060.0,718.0 1061.0,719.4 1062.0,720.6 1063.0,721.8 1064.0,723.0 1065.0,724.3 1066.0,725.5 1067.0,726.7 1068.0,728.0 1069.0,729.2 1070.0,730.4 1071.0,730.8 1072.0,731.2 1073.0,731.6 1074.0,732.0 1075.0,732.4 1076.0,732.8 1077.0,733.2 1078.0,733.6 1079.0,734.0 1080.0,734.3 1081.0,734.7 1082.0,735.0 1083.0,735.3 1084.0,735.7 1085.0,736.0 1086.0,736.3 1087.0,736.7 1088.0,736.9 1089.0,736.3 1090.0,735.7 1091.0,735.0 1092.0,734.4 1093.0,733.8 1094.0,733.2 1095.0,732.5 1096.0,731.9 1097.0,731.3 1098.0,730.6 1099.0,729.9 1100.0,729.1 1101.0,728.4 1102.0,727.7 1103.0,726.9 1104.0,726.2 1105.0,725.5 1106.0,724.7 1107.0,723.8 1108.0,722.9 1109.0,722.0 1110.0,721.0 1110.0,721.2 1109.0,720.9 1108.0,720.6 1107.0,720.3 1106.0,720.0 1105.0,719.7 1104.0,719.5 1103.0,719.2 1102.0,718.9 1101.0,718.6 1100.0,718.2 1099.0,717.6 1098.0,717.1 1097.0,716.5 1096.0,715.9 1095.0,715.3 1094.0,714.8 1093.0,714.2 1092.0,713.6 1091.0,713.1 1090.0,712.3 1089.0,711.5 1088.0,710.7 1087.0,709.9 1086.0,709.1 1085.0,708.3 1084.0,707.5 1083.0,706.7 1082.0,705.9 1081.0,705.1 1080.0,704.3 1079.0,703.4 1078.0,702.3 1077.0,701.2 1076.0,700.1 1075.0,699.0 1074.0,697.9 1073.0,696.8 1072.0,695.8 1071.0,694.7 1070.0,693.6 1069.0,692.3 1068.0,691.0 1067.0,689.7 1066.0,688.5 1065.0,687.2 1064.0,685.9 1063.0,684.6 1062.0,683.3 1061.0,682.0 1060.0,680.7 1059.0,679.3 1058.0,678.0 1057.0,676.6 1056.0,675.2 1055.0,673.8 1054.0,672.5 1053.0,671.1 1052.0,669.7 1051.0,668.3 1050.0,667.0 1049.0,665.6 1048.0,664.1 1047.0,662.6 1046.0,661.1 1045.0,659.6 1044.0,658.1 1043.0,656.6 1042.0,655.1 1041.0,653.6 1040.0,652.3 1039.0,651.2 1038.0,650.0 1037.0,648.8 1036.0,647.6 1035.0,646.4 1034.0,645.2 1033.0,644.0 1032.0,642.8 1031.0,642.8 1030.0,642.8" fill="url(#rg)"/>
<polygon points="1110.0,721.0 1111.0,720.1 1112.0,719.2 1113.0,718.3 1114.0,717.6 1115.0,716.9 1116.0,716.2 1117.0,715.4 1118.0,714.7 1119.0,714.0 1120.0,713.4 1121.0,713.2 1122.0,712.9 1123.0,712.7 1124.0,712.5 1125.0,712.2 1126.0,712.0 1127.0,711.8 1128.0,711.5 1129.0,711.5 1130.0,711.5 1131.0,711.5 1132.0,711.5 1133.0,711.5 1134.0,711.5 1135.0,711.5 1136.0,711.5 1137.0,711.3 1138.0,711.1 1139.0,710.8 1140.0,710.5 1141.0,710.2 1142.0,709.9 1143.0,709.7 1144.0,709.5 1145.0,709.5 1146.0,709.4 1147.0,709.4 1148.0,709.3 1149.0,709.2 1150.0,708.4 1151.0,707.6 1152.0,706.8 1153.0,706.0 1154.0,705.2 1155.0,704.4 1156.0,703.6 1157.0,702.8 1158.0,701.9 1159.0,701.1 1160.0,700.2 1161.0,699.3 1162.0,698.5 1163.0,697.6 1164.0,696.8 1165.0,695.9 1166.0,695.1 1167.0,694.2 1168.0,693.6 1169.0,693.0 1170.0,692.4 1171.0,691.8 1172.0,691.2 1173.0,690.6 1174.0,690.0 1175.0,689.4 1176.0,689.0 1177.0,688.7 1178.0,688.3 1179.0,687.9 1180.0,687.5 1181.0,687.1 1182.0,686.8 1183.0,686.4 1184.0,686.0 1185.0,685.6 1186.0,685.3 1187.0,684.9 1188.0,684.2 1189.0,683.1 1190.0,682.1 1191.0,681.0 1192.0,679.9 1193.0,678.8 1194.0,677.8 1195.0,676.7 1196.0,675.6 1197.0,674.5 1198.0,673.5 1199.0,672.4 1200.0,671.4 1201.0,670.2 1202.0,669.1 1203.0,668.0 1204.0,666.9 1205.0,665.7 1206.0,664.6 1207.0,663.5 1208.0,662.4 1209.0,661.2 1210.0,660.1 1211.0,659.0 1212.0,658.1 1213.0,657.3 1214.0,656.4 1215.0,655.6 1216.0,654.7 1217.0,653.9 1218.0,653.0 1219.0,652.2 1220.0,651.3 1221.0,650.5 1222.0,649.6 1223.0,648.8 1224.0,647.9 1225.0,648.5 1226.0,649.3 1227.0,650.0 1228.0,650.8 1229.0,651.6 1230.0,652.3 1231.0,653.1 1232.0,653.8 1233.0,654.6 1234.0,655.5 1235.0,656.4 1236.0,657.3 1237.0,658.3 1238.0,659.2 1239.0,660.1 1240.0,661.1 1241.0,662.0 1242.0,662.6 1243.0,662.9 1244.0,663.2 1245.0,663.5 1246.0,663.8 1247.0,664.0 1248.0,664.3 1249.0,664.9 1249.0,664.6 1248.0,664.5 1247.0,664.4 1246.0,664.3 1245.0,664.2 1244.0,664.1 1243.0,664.0 1242.0,663.9 1241.0,664.0 1240.0,664.1 1239.0,664.2 1238.0,664.4 1237.0,664.5 1236.0,664.6 1235.0,664.8 1234.0,664.9 1233.0,665.1 1232.0,665.5 1231.0,665.9 1230.0,666.3 1229.0,666.7 1228.0,667.1 1227.0,667.4 1226.0,667.8 1225.0,668.2 1224.0,668.7 1223.0,669.4 1222.0,670.1 1221.0,670.9 1220.0,671.6 1219.0,672.4 1218.0,673.1 1217.0,673.9 1216.0,674.6 1215.0,675.4 1214.0,676.1 1213.0,676.8 1212.0,677.6 1211.0,678.3 1210.0,679.2 1209.0,680.0 1208.0,680.8 1207.0,681.6 1206.0,682.5 1205.0,683.3 1204.0,684.1 1203.0,684.9 1202.0,685.8 1201.0,686.6 1200.0,687.4 1199.0,689.5 1198.0,690.6 1197.0,691.3 1196.0,692.0 1195.0,692.7 1194.0,693.3 1193.0,694.0 1192.0,694.7 1191.0,695.4 1190.0,696.0 1189.0,696.7 1188.0,697.4 1187.0,697.9 1186.0,698.3 1185.0,698.7 1184.0,699.2 1183.0,699.6 1182.0,700.0 1181.0,700.4 1180.0,700.8 1179.0,701.2 1178.0,701.7 1177.0,702.1 1176.0,702.5 1175.0,702.9 1174.0,703.3 1173.0,703.7 1172.0,704.2 1171.0,704.6 1170.0,705.0 1169.0,705.4 1168.0,705.8 1167.0,706.2 1166.0,706.6 1165.0,707.0 1164.0,707.4 1163.0,707.8 1162.0,708.2 1161.0,708.6 1160.0,709.0 1159.0,709.4 1158.0,709.8 1157.0,710.2 1156.0,710.5 1155.0,710.8 1154.0,711.1 1153.0,711.4 1152.0,711.7 1151.0,712.0 1150.0,712.3 1149.0,712.6 1148.0,712.9 1147.0,713.2 1146.0,713.5 1145.0,713.6 1144.0,713.8 1143.0,713.9 1142.0,714.1 1141.0,714.3 1140.0,714.4 1139.0,714.6 1138.0,714.7 1137.0,714.9 1136.0,715.1 1135.0,715.2 1134.0,715.4 1133.0,715.5 1132.0,715.7 1131.0,716.0 1130.0,716.2 1129.0,716.5 1128.0,716.7 1127.0,717.0 1126.0,717.2 1125.0,717.5 1124.0,717.7 1123.0,718.0 1122.0,718.2 1121.0,718.5 1120.0,718.7 1119.0,719.0 1118.0,719.2 1117.0,719.5 1116.0,719.7 1115.0,720.0 1114.0,720.2 1113.0,720.5 1112.0,720.7 1111.0,721.0 1110.0,721.2" fill="url(#gg)"/>
<polygon points="1249.0,664.9 1250.0,665.6 1251.0,666.4 1252.0,667.1 1253.0,667.9 1254.0,668.6 1255.0,668.2 1256.0,667.8 1257.0,667.4 1258.0,667.0 1259.0,666.6 1260.0,666.2 1261.0,665.9 1262.0,666.3 1263.0,666.8 1264.0,667.3 1265.0,667.8 1266.0,668.3 1267.0,668.7 1268.0,669.2 1269.0,669.5 1270.0,669.8 1271.0,670.1 1272.0,670.4 1273.0,670.7 1274.0,670.5 1275.0,669.9 1276.0,669.4 1277.0,668.8 1278.0,668.3 1279.0,667.8 1280.0,668.0 1281.0,668.2 1282.0,668.4 1283.0,668.6 1284.0,668.8 1285.0,669.0 1286.0,669.2 1287.0,669.4 1288.0,669.7 1289.0,669.9 1290.0,670.1 1291.0,670.4 1292.0,670.6 1293.0,670.8 1294.0,670.8 1295.0,670.7 1296.0,670.7 1297.0,670.7 1298.0,670.7 1299.0,670.6 1300.0,670.6 1301.0,670.6 1302.0,670.5 1303.0,670.9 1304.0,671.5 1305.0,672.1 1306.0,672.7 1307.0,673.3 1308.0,673.9 1309.0,674.5 1310.0,675.1 1311.0,675.6 1312.0,675.9 1313.0,676.2 1314.0,676.6 1315.0,676.9 1316.0,677.2 1317.0,677.5 1318.0,677.7 1319.0,677.6 1320.0,677.5 1321.0,677.4 1322.0,677.4 1323.0,677.3 1324.0,677.2 1325.0,677.1 1326.0,677.0 1327.0,676.9 1328.0,676.9 1329.0,677.0 1330.0,677.1 1331.0,677.1 1332.0,677.2 1333.0,677.3 1334.0,677.3 1335.0,677.4 1336.0,677.5 1337.0,677.6 1338.0,677.6 1339.0,677.7 1340.0,677.8 1341.0,677.9 1342.0,677.9 1343.0,678.0 1344.0,678.1 1345.0,678.2 1346.0,678.2 1347.0,678.6 1348.0,679.6 1349.0,680.6 1350.0,681.6 1351.0,682.6 1352.0,683.6 1353.0,684.6 1354.0,685.6 1355.0,686.6 1356.0,687.3 1357.0,688.1 1358.0,688.8 1359.0,689.6 1360.0,690.3 1361.0,691.1 1362.0,691.8 1363.0,692.6 1364.0,693.3 1365.0,694.1 1366.0,694.8 1367.0,695.2 1368.0,695.6 1369.0,696.0 1370.0,696.4 1371.0,696.7 1372.0,697.1 1373.0,697.5 1374.0,697.9 1375.0,698.2 1376.0,698.6 1377.0,699.0 1378.0,699.2 1379.0,699.4 1380.0,699.6 1381.0,699.8 1382.0,700.0 1383.0,700.2 1384.0,700.4 1385.0,700.3 1386.0,700.1 1387.0,699.9 1388.0,699.7 1389.0,699.5 1390.0,699.3 1391.0,699.1 1392.0,699.3 1393.0,699.5 1394.0,699.7 1395.0,700.0 1396.0,700.2 1397.0,700.4 1398.0,700.7 1399.0,700.9 1400.0,701.1 1401.0,701.4 1402.0,701.6 1403.0,701.8 1404.0,702.1 1405.0,702.3 1406.0,702.5 1407.0,702.7 1408.0,703.0 1409.0,703.2 1410.0,703.2 1411.0,703.2 1412.0,703.2 1413.0,703.2 1414.0,703.2 1415.0,703.2 1416.0,703.2 1417.0,702.7 1418.0,702.2 1419.0,701.7 1420.0,701.2 1421.0,700.7 1422.0,700.2 1423.0,699.7 1424.0,699.2 1425.0,698.9 1425.0,698.9 1424.0,698.9 1423.0,699.0 1422.0,699.0 1421.0,699.0 1420.0,698.8 1419.0,698.7 1418.0,698.5 1417.0,698.3 1416.0,698.2 1415.0,698.0 1414.0,697.9 1413.0,697.7 1412.0,697.5 1411.0,697.4 1410.0,697.2 1409.0,697.1 1408.0,696.9 1407.0,696.7 1406.0,696.5 1405.0,696.3 1404.0,696.1 1403.0,695.9 1402.0,695.7 1401.0,695.5 1400.0,695.3 1399.0,695.1 1398.0,694.9 1397.0,694.7 1396.0,694.5 1395.0,694.3 1394.0,694.1 1393.0,693.8 1392.0,693.5 1391.0,693.1 1390.0,692.8 1389.0,692.4 1388.0,692.1 1387.0,691.8 1386.0,691.4 1385.0,691.1 1384.0,690.7 1383.0,690.4 1382.0,690.1 1381.0,689.7 1380.0,689.4 1379.0,689.0 1378.0,688.6 1377.0,688.2 1376.0,687.9 1375.0,687.5 1374.0,687.1 1373.0,686.7 1372.0,686.4 1371.0,686.0 1370.0,685.6 1369.0,685.2 1368.0,684.8 1367.0,684.4 1366.0,684.0 1365.0,683.6 1364.0,683.1 1363.0,682.7 1362.0,682.3 1361.0,681.9 1360.0,681.4 1359.0,681.0 1358.0,680.6 1357.0,680.2 1356.0,679.8 1355.0,679.4 1354.0,679.0 1353.0,678.6 1352.0,678.2 1351.0,677.8 1350.0,677.4 1349.0,677.0 1348.0,676.6 1347.0,676.2 1346.0,676.0 1345.0,676.0 1344.0,675.9 1343.0,675.9 1342.0,675.8 1341.0,675.8 1340.0,675.7 1339.0,675.7 1338.0,675.6 1337.0,675.6 1336.0,675.5 1335.0,675.4 1334.0,675.2 1333.0,675.0 1332.0,674.9 1331.0,674.7 1330.0,674.5 1329.0,674.3 1328.0,674.2 1327.0,674.0 1326.0,673.8 1325.0,673.6 1324.0,673.5 1323.0,673.3 1322.0,673.2 1321.0,673.0 1320.0,672.8 1319.0,672.7 1318.0,672.5 1317.0,672.4 1316.0,672.2 1315.0,672.0 1314.0,671.9 1313.0,671.7 1312.0,671.6 1311.0,671.4 1310.0,671.2 1309.0,671.1 1308.0,670.9 1307.0,670.8 1306.0,670.6 1305.0,670.4 1304.0,670.3 1303.0,670.1 1302.0,670.0 1301.0,669.8 1300.0,669.6 1299.0,669.5 1298.0,669.3 1297.0,669.2 1296.0,669.1 1295.0,669.0 1294.0,668.9 1293.0,668.8 1292.0,668.8 1291.0,668.7 1290.0,668.6 1289.0,668.5 1288.0,668.4 1287.0,668.4 1286.0,668.3 1285.0,668.2 1284.0,668.1 1283.0,668.0 1282.0,667.9 1281.0,667.8 1280.0,667.7 1279.0,667.6 1278.0,667.5 1277.0,667.4 1276.0,667.3 1275.0,667.2 1274.0,667.1 1273.0,667.0 1272.0,666.9 1271.0,666.8 1270.0,666.7 1269.0,666.6 1268.0,666.5 1267.0,666.4 1266.0,666.3 1265.0,666.2 1264.0,666.1 1263.0,666.0 1262.0,665.9 1261.0,665.8 1260.0,665.7 1259.0,665.6 1258.0,665.5 1257.0,665.4 1256.0,665.3 1255.0,665.2 1254.0,665.1 1253.0,665.0 1252.0,664.9 1251.0,664.8 1250.0,664.7 1249.0,664.6" fill="url(#rg)"/>
<polygon points="1425.0,698.9 1426.0,698.7 1427.0,698.5 1428.0,698.3 1429.0,698.1 1430.0,697.9 1431.0,697.7 1432.0,697.5 1433.0,697.3 1434.0,697.1 1435.0,697.3 1436.0,697.4 1437.0,697.6 1438.0,697.8 1439.0,697.9 1440.0,698.1 1441.0,698.2 1442.0,698.0 1443.0,697.9 1444.0,697.7 1445.0,697.6 1446.0,697.4 1447.0,697.2 1448.0,697.1 1449.0,697.3 1450.0,697.5 1451.0,697.7 1452.0,697.8 1453.0,698.0 1454.0,698.2 1455.0,698.4 1456.0,698.5 1457.0,698.7 1458.0,698.9 1459.0,699.1 1460.0,699.6 1460.0,699.3 1459.0,699.2 1458.0,699.1 1457.0,699.0 1456.0,698.9 1455.0,698.8 1454.0,698.7 1453.0,698.6 1452.0,698.5 1451.0,698.4 1450.0,698.3 1449.0,698.2 1448.0,698.2 1447.0,698.3 1446.0,698.3 1445.0,698.3 1444.0,698.3 1443.0,698.3 1442.0,698.4 1441.0,698.4 1440.0,698.4 1439.0,698.4 1438.0,698.4 1437.0,698.5 1436.0,698.5 1435.0,698.5 1434.0,698.5 1433.0,698.6 1432.0,698.6 1431.0,698.7 1430.0,698.7 1429.0,698.7 1428.0,698.8 1427.0,698.8 1426.0,698.9 1425.0,698.9" fill="url(#gg)"/>
<polygon points="1460.0,699.6 1461.0,700.1 1462.0,700.6 1463.0,701.1 1464.0,701.6 1465.0,701.5 1466.0,701.0 1467.0,700.5 1468.0,699.9 1469.0,699.4 1469.0,699.6 1468.0,699.6 1467.0,699.6 1466.0,699.6 1465.0,699.6 1464.0,699.6 1463.0,699.6 1462.0,699.5 1461.0,699.4 1460.0,699.3" fill="url(#rg)"/>
<polygon points="1469.0,699.4 1470.0,698.9 1471.0,698.4 1472.0,698.4 1473.0,698.6 1474.0,698.8 1475.0,699.0 1476.0,699.2 1477.0,699.4 1478.0,699.6 1479.0,699.8 1479.0,699.7 1478.0,699.7 1477.0,699.6 1476.0,699.6 1475.0,699.6 1474.0,699.6 1473.0,699.6 1472.0,699.6 1471.0,699.6 1470.0,699.6 1469.0,699.6" fill="url(#gg)"/>
<polygon points="1479.0,699.8 1480.0,700.1 1481.0,700.3 1482.0,700.6 1483.0,700.9 1484.0,701.1 1485.0,701.4 1486.0,701.7 1487.0,702.1 1488.0,702.8 1489.0,703.5 1490.0,704.1 1491.0,704.8 1492.0,705.5 1493.0,706.1 1494.0,706.8 1495.0,707.4 1496.0,708.0 1497.0,708.6 1498.0,709.2 1499.0,709.8 1500.0,710.4 1501.0,711.0 1502.0,711.7 1503.0,712.5 1504.0,713.3 1505.0,714.1 1506.0,714.9 1507.0,715.7 1508.0,716.5 1509.0,717.2 1510.0,717.6 1511.0,718.0 1512.0,718.5 1513.0,718.9 1514.0,719.4 1515.0,719.8 1516.0,719.0 1517.0,718.2 1518.0,717.4 1519.0,716.6 1520.0,715.8 1521.0,715.0 1522.0,714.2 1523.0,713.6 1524.0,713.4 1525.0,713.2 1526.0,712.9 1527.0,712.7 1528.0,712.5 1529.0,712.2 1530.0,712.0 1531.0,711.8 1532.0,711.6 1533.0,711.2 1533.0,711.3 1532.0,711.2 1531.0,711.2 1530.0,711.1 1529.0,711.1 1528.0,711.0 1527.0,711.0 1526.0,710.8 1525.0,710.5 1524.0,710.3 1523.0,710.0 1522.0,709.8 1521.0,709.5 1520.0,709.3 1519.0,709.0 1518.0,708.8 1517.0,708.5 1516.0,708.3 1515.0,708.0 1514.0,707.6 1513.0,707.2 1512.0,706.8 1511.0,706.5 1510.0,706.1 1509.0,705.7 1508.0,705.3 1507.0,705.0 1506.0,704.6 1505.0,704.2 1504.0,703.9 1503.0,703.6 1502.0,703.4 1501.0,703.1 1500.0,702.9 1499.0,702.6 1498.0,702.3 1497.0,702.1 1496.0,701.8 1495.0,701.6 1494.0,701.3 1493.0,701.0 1492.0,700.8 1491.0,700.5 1490.0,700.4 1489.0,700.3 1488.0,700.3 1487.0,700.2 1486.0,700.2 1485.0,700.1 1484.0,700.0 1483.0,700.0 1482.0,699.9 1481.0,699.9 1480.0,699.8 1479.0,699.7" fill="url(#rg)"/>
<polygon points="1533.0,711.2 1534.0,710.8 1535.0,710.5 1536.0,710.1 1537.0,709.7 1538.0,709.3 1539.0,708.9 1540.0,708.6 1541.0,708.2 1542.0,707.8 1543.0,707.4 1544.0,707.1 1545.0,706.5 1546.0,705.7 1547.0,704.9 1548.0,704.0 1549.0,703.2 1550.0,702.3 1551.0,701.5 1552.0,700.9 1553.0,700.6 1554.0,700.3 1555.0,700.0 1556.0,699.8 1557.0,699.5 1558.0,699.2 1559.0,698.6 1560.0,697.8 1561.0,696.9 1562.0,696.1 1563.0,695.2 1564.0,694.4 1565.0,693.5 1566.0,692.6 1567.0,691.8 1568.0,690.9 1569.0,690.2 1570.0,689.5 1571.0,688.8 1572.0,688.0 1573.0,687.3 1574.0,686.6 1575.0,685.9 1576.0,685.2 1577.0,684.5 1578.0,683.8 1579.0,683.1 1580.0,682.4 1581.0,681.7 1582.0,681.0 1583.0,680.4 1584.0,679.7 1585.0,679.1 1586.0,678.9 1587.0,678.8 1588.0,678.6 1589.0,678.4 1589.8,678.3 1589.8,690.7 1589.0,691.2 1588.0,691.7 1587.0,692.3 1586.0,692.8 1585.0,693.4 1584.0,693.9 1583.0,694.5 1582.0,695.0 1581.0,695.5 1580.0,696.1 1579.0,696.6 1578.0,697.2 1577.0,697.7 1576.0,698.3 1575.0,698.8 1574.0,699.3 1573.0,699.9 1572.0,700.4 1571.0,701.0 1570.0,701.4 1569.0,701.9 1568.0,702.3 1567.0,702.8 1566.0,703.2 1565.0,703.7 1564.0,704.1 1563.0,704.6 1562.0,705.0 1561.0,705.5 1560.0,705.9 1559.0,706.3 1558.0,706.6 1557.0,706.9 1556.0,707.2 1555.0,707.6 1554.0,707.9 1553.0,708.2 1552.0,708.5 1551.0,708.9 1550.0,709.2 1549.0,709.5 1548.0,709.7 1547.0,709.9 1546.0,710.1 1545.0,710.2 1544.0,710.4 1543.0,710.6 1542.0,710.8 1541.0,710.9 1540.0,711.1 1539.0,711.3 1538.0,711.5 1537.0,711.5 1536.0,711.4 1535.0,711.4 1534.0,711.3 1533.0,711.3" fill="url(#gg)"/>
<polyline points="0.0,681.9 8.3,674.1 16.6,667.2 24.9,661.1 33.2,656.1 41.5,652.0 49.8,649.2 58.1,647.8 69.2,647.3 83.1,647.3 96.9,647.3 110.7,647.3 116.3,645.1 124.6,639.5 132.9,634.0 141.2,629.3 149.5,625.7 157.8,622.9 166.1,621.5 177.2,621.0 188.3,620.7 199.3,620.4 206.3,620.7 215.9,622.9 224.3,626.5 232.6,631.2 243.6,636.2 254.7,642.3 265.8,649.2 276.9,656.1 285.2,664.4 293.5,670.0 301.8,674.1 310.1,676.9 321.2,679.1 332.2,678.8 343.3,678.3 351.6,678.3 359.9,677.5 371.0,675.5 382.1,672.7 393.1,668.0 411.1,663.1 424.9,660.8 438.8,658.9 449.8,658.1 462.3,656.7 474.8,656.7 488.6,656.7 499.7,658.9 510.7,659.7 524.6,658.9 535.7,657.5 549.5,654.8 560.6,651.2 571.7,645.6 582.7,640.9 593.8,638.1 604.9,636.8 615.9,636.2 627.0,636.8 638.1,634.5 649.2,632.0 660.2,630.4 672.7,631.2 682.4,633.2 693.5,636.8 704.5,640.4 715.6,644.2 726.7,646.4 740.5,646.4 753.0,647.8 765.4,645.9 779.3,645.1 793.1,646.4 811.1,649.2 822.1,646.4 833.2,641.5 844.3,635.4 855.4,631.2 866.4,627.6 876.1,626.2 885.8,627.1 895.5,629.3 905.2,634.0 916.3,639.5 927.4,643.1 938.4,645.6 949.5,646.4 960.6,646.4 971.7,645.6 982.7,643.7 993.8,641.7 1004.9,641.5 1018.7,642.3 1032.0,642.8 1040.9,653.4 1049.2,665.8 1060.2,681.1 1069.9,693.5 1079.6,704.0 1090.7,712.9 1100.4,718.4 1110.1,721.2 1121.2,718.4 1132.2,715.7 1146.1,713.4 1157.1,710.1 1171.0,704.6 1187.6,697.7 1198.7,690.2 1200.0,687.4 1211.1,678.3 1224.1,668.6 1233.2,665.0 1241.5,663.9 1255.4,665.3 1269.2,666.7 1283.1,668.0 1296.9,669.1 1310.7,671.4 1324.6,673.6 1335.7,675.5 1346.7,676.1 1357.8,680.5 1368.9,685.2 1380.0,689.4 1393.8,694.1 1407.6,696.8 1421.5,699.0 1435.3,698.5 1449.2,698.2 1463.0,699.6 1476.9,699.6 1490.7,700.4 1504.5,704.0 1515.6,708.2 1526.7,711.0 1537.8,711.5 1548.8,709.6 1559.9,706.0 1571.0,701.0 1580.7,695.7 1589.8,690.7" fill="none" stroke="#ff0000" stroke-width="1.2" stroke-linejoin="round"/>
<polyline points="0.0,661.7 4.2,654.8 9.7,649.2 16.6,646.4 22.1,644.5 27.7,645.6 33.2,643.1 41.5,641.5 48.4,640.9 55.4,643.1 66.4,645.6 72.0,645.1 77.5,647.8 84.4,648.7 91.4,645.9 96.9,646.4 103.8,647.8 109.4,646.4 114.9,641.5 121.8,628.4 128.7,621.5 139.8,613.8 149.5,615.4 157.8,616.0 166.1,617.4 170.3,616.5 177.2,618.8 185.5,620.7 193.8,618.8 202.1,617.4 206.3,621.0 215.9,629.8 224.3,638.1 232.6,645.1 240.9,645.9 246.4,647.8 254.7,654.8 263.0,665.8 271.3,671.4 276.9,678.3 282.4,685.2 289.3,688.0 296.2,686.0 307.3,686.0 319.8,683.8 328.1,677.5 336.4,675.0 343.3,676.3 351.1,679.7 357.1,676.9 365.4,674.1 375.1,668.0 383.4,664.4 393.1,658.9 411.1,657.5 419.4,656.1 430.5,656.1 442.9,656.1 451.2,654.2 462.3,654.2 474.8,658.1 483.1,656.1 491.4,657.0 498.3,660.3 505.2,662.2 513.5,658.9 524.6,658.1 531.5,654.2 538.4,652.5 549.5,650.6 557.8,645.1 566.1,636.8 573.9,630.7 580.0,631.8 586.0,629.8 593.8,631.8 602.1,633.2 610.4,634.5 618.7,638.1 625.6,636.2 633.9,631.2 642.2,625.7 649.2,627.1 654.7,627.6 661.6,630.7 672.7,631.8 682.4,639.5 691.5,646.4 704.5,647.0 715.6,651.2 726.7,647.8 737.8,648.7 744.7,647.8 753.0,650.0 759.9,645.9 772.4,641.7 779.3,642.8 787.6,647.8 804.2,652.8 813.8,648.7 827.7,636.8 840.1,622.9 845.7,620.1 851.2,621.5 858.1,621.5 870.6,618.8 876.1,627.9 883.1,628.4 888.6,629.8 895.5,638.1 902.4,643.1 908.0,650.0 914.9,651.4 927.4,651.4 938.4,648.7 944.0,647.3 950.9,647.3 957.8,645.9 963.9,647.8 968.9,644.5 975.8,643.1 982.7,638.1 989.6,635.9 996.6,637.3 1004.9,640.1 1013.2,644.2 1018.7,645.1 1027.0,641.7 1032.0,643.7 1037.5,668.6 1043.6,685.2 1050.6,701.8 1060.2,718.4 1069.9,730.3 1079.6,734.2 1087.9,737.0 1097.6,730.9 1105.9,724.8 1112.8,718.4 1119.8,713.4 1128.1,711.5 1136.4,711.5 1143.3,709.6 1148.8,709.3 1157.1,702.6 1166.8,694.3 1175.1,689.4 1187.6,684.7 1198.7,672.7 1200.0,671.4 1211.1,658.9 1224.1,647.8 1233.2,654.8 1241.5,662.5 1248.4,664.4 1254.0,668.6 1260.9,665.8 1267.8,669.1 1273.4,670.8 1278.9,667.8 1285.8,669.1 1292.7,670.8 1302.4,670.5 1310.7,675.5 1317.7,677.7 1327.4,676.9 1335.7,677.5 1346.7,678.3 1355.0,686.6 1366.1,694.9 1377.2,699.0 1384.1,700.4 1391.0,699.0 1399.3,701.0 1409.0,703.2 1415.9,703.2 1424.3,699.0 1433.9,697.1 1440.9,698.2 1447.8,697.1 1458.9,699.0 1464.4,701.8 1471.3,698.2 1478.2,699.6 1486.5,701.8 1494.9,707.4 1501.8,711.5 1508.7,717.0 1515.1,719.8 1522.5,713.7 1532.2,711.5 1544.7,706.8 1551.6,701.0 1558.5,699.0 1568.2,690.7 1577.9,683.8 1584.8,679.1 1589.8,678.3" fill="none" stroke="#111" stroke-width="1.1" stroke-linejoin="round"/>
<rect x="1612" y="0" width="1.4" height="749.5" fill="#000"/>
<g stroke="#000" stroke-width="1" shape-rendering="crispEdges">
<line x1="1613" y1="85.5" x2="1616.5" y2="85.5"/>
<line x1="1613" y1="178.5" x2="1616.5" y2="178.5"/>
<line x1="1613" y1="271.5" x2="1616.5" y2="271.5"/>
<line x1="1613" y1="364.5" x2="1616.5" y2="364.5"/>
<line x1="1613" y1="457.5" x2="1616.5" y2="457.5"/>
<line x1="1613" y1="549.5" x2="1616.5" y2="549.5"/>
<line x1="1613" y1="630.5" x2="1616.5" y2="630.5"/>
<line x1="1613" y1="693.5" x2="1616.5" y2="693.5"/>
</g>
<path d="M1613 36.6 L1620.6 39.5 L1613 42.4 L1614.2 39.5 Z" fill="#000"/>
<text x="1622.3" y="44.2" font-size="13.4" fill="#000" textLength="27.6" lengthAdjust="spacingAndGlyphs">3100</text>
<path d="M1613 129.6 L1620.6 132.5 L1613 135.4 L1614.2 132.5 Z" fill="#000"/>
<text x="1622.3" y="137.2" font-size="13.4" fill="#000" textLength="27.6" lengthAdjust="spacingAndGlyphs">3000</text>
<path d="M1613 221.6 L1620.6 224.5 L1613 227.4 L1614.2 224.5 Z" fill="#000"/>
<text x="1622.3" y="229.2" font-size="13.4" fill="#000" textLength="27.6" lengthAdjust="spacingAndGlyphs">2900</text>
<path d="M1613 314.6 L1620.6 317.5 L1613 320.4 L1614.2 317.5 Z" fill="#000"/>
<text x="1622.3" y="322.2" font-size="13.4" fill="#000" textLength="27.6" lengthAdjust="spacingAndGlyphs">2800</text>
<path d="M1613 407.6 L1620.6 410.5 L1613 413.4 L1614.2 410.5 Z" fill="#000"/>
<text x="1622.3" y="415.2" font-size="13.4" fill="#000" textLength="27.6" lengthAdjust="spacingAndGlyphs">2700</text>
<path d="M1613 500.6 L1620.6 503.5 L1613 506.4 L1614.2 503.5 Z" fill="#000"/>
<text x="1622.3" y="508.2" font-size="13.4" fill="#000" textLength="27.6" lengthAdjust="spacingAndGlyphs">2600</text>
<path d="M1613 658.6 L1620.6 661.5 L1613 664.4 L1614.2 661.5 Z" fill="#000"/>
<text x="1622.0" y="666.6" font-size="13.4" fill="#000" textLength="6.8" lengthAdjust="spacingAndGlyphs">0</text>
<path d="M1613 722.6 L1620.6 725.5 L1613 728.4 L1614.2 725.5 Z" fill="#000"/>
<text x="1621.5" y="730.6" font-size="13.4" fill="#000" textLength="19.5" lengthAdjust="spacingAndGlyphs">-50</text>
<path d="M1613.3 262.8 L1618.8 254.1 L1677 254.1 L1677 271.6 L1618.8 271.6 Z" fill="#a09600" stroke="#000" stroke-width="1" stroke-linejoin="miter"/>
<line x1="1618.8" y1="254.1" x2="1618.8" y2="271.6" stroke="#000" stroke-width="1"/>
<text x="1621.4" y="267.7" font-size="13.4" fill="#000" textLength="45.4" lengthAdjust="spacingAndGlyphs">2859.34</text>
<path d="M1613.3 255.0 L1618.8 246.2 L1677 246.2 L1677 263.7 L1618.8 263.7 Z" fill="#ff1e3c" stroke="#000" stroke-width="1" stroke-linejoin="miter"/>
<line x1="1618.8" y1="246.2" x2="1618.8" y2="263.7" stroke="#000" stroke-width="1"/>
<text x="1621.4" y="259.9" font-size="13.4" fill="#fff" textLength="45.4" lengthAdjust="spacingAndGlyphs">2868.00</text>
<path d="M1613.3 48.4 L1618.8 39.6 L1677 39.6 L1677 57.1 L1618.8 57.1 Z" fill="#ff1e3c" stroke="#000" stroke-width="1" stroke-linejoin="miter"/>
<line x1="1618.8" y1="39.6" x2="1618.8" y2="57.1" stroke="#000" stroke-width="1"/>
<text x="1621.4" y="53.3" font-size="13.4" fill="#fff" textLength="45.4" lengthAdjust="spacingAndGlyphs">3090.00</text>
<path d="M1613.3 180.5 L1618.8 171.7 L1677 171.7 L1677 189.2 L1618.8 189.2 Z" fill="#ff1e3c" stroke="#000" stroke-width="1" stroke-linejoin="miter"/>
<line x1="1618.8" y1="171.7" x2="1618.8" y2="189.2" stroke="#000" stroke-width="1"/>
<text x="1621.4" y="185.4" font-size="13.4" fill="#fff" textLength="45.4" lengthAdjust="spacingAndGlyphs">2948.00</text>
<path d="M1613.3 317.6 L1618.8 308.9 L1677 308.9 L1677 326.4 L1618.8 326.4 Z" fill="#ff1e3c" stroke="#000" stroke-width="1" stroke-linejoin="miter"/>
<line x1="1618.8" y1="308.9" x2="1618.8" y2="326.4" stroke="#000" stroke-width="1"/>
<text x="1621.4" y="322.5" font-size="13.4" fill="#fff" textLength="45.4" lengthAdjust="spacingAndGlyphs">2800.00</text>
<path d="M1613.3 405.1 L1618.8 396.4 L1677 396.4 L1677 413.9 L1618.8 413.9 Z" fill="#ff1e3c" stroke="#000" stroke-width="1" stroke-linejoin="miter"/>
<line x1="1618.8" y1="396.4" x2="1618.8" y2="413.9" stroke="#000" stroke-width="1"/>
<text x="1621.4" y="410.0" font-size="13.4" fill="#fff" textLength="45.4" lengthAdjust="spacingAndGlyphs">2706.00</text>
<path d="M1613.3 436.4 L1618.8 427.7 L1677 427.7 L1677 445.2 L1618.8 445.2 Z" fill="#78f08c" stroke="#000" stroke-width="1" stroke-linejoin="miter"/>
<line x1="1618.8" y1="427.7" x2="1618.8" y2="445.2" stroke="#000" stroke-width="1"/>
<path d="M1613.3 439.9 L1618.8 431.1 L1677 431.1 L1677 448.6 L1618.8 448.6 Z" fill="#000" stroke="#000" stroke-width="1" stroke-linejoin="miter"/>
<line x1="1618.8" y1="431.1" x2="1618.8" y2="448.6" stroke="#000" stroke-width="1"/>
<path d="M1613.3 457.3 L1618.8 448.5 L1677 448.5 L1677 466.0 L1618.8 466.0 Z" fill="#e6009c" stroke="#000" stroke-width="1" stroke-linejoin="miter"/>
<line x1="1618.8" y1="448.5" x2="1618.8" y2="466.0" stroke="#000" stroke-width="1"/>
<text x="1621.4" y="462.2" font-size="13.4" fill="#fff" textLength="45.4" lengthAdjust="spacingAndGlyphs">2649.80</text>
<path d="M1613.3 445.5 L1618.8 436.7 L1677 436.7 L1677 454.2 L1618.8 454.2 Z" fill="#3c96f5" stroke="#000" stroke-width="1" stroke-linejoin="miter"/>
<line x1="1618.8" y1="436.7" x2="1618.8" y2="454.2" stroke="#000" stroke-width="1"/>
<text x="1621.4" y="450.4" font-size="13.4" fill="#000" textLength="45.4" lengthAdjust="spacingAndGlyphs">2662.00</text>
<path d="M1613.3 527.6 L1618.8 518.9 L1677 518.9 L1677 536.4 L1618.8 536.4 Z" fill="#3c96f5" stroke="#000" stroke-width="1" stroke-linejoin="miter"/>
<line x1="1618.8" y1="518.9" x2="1618.8" y2="536.4" stroke="#000" stroke-width="1"/>
<text x="1621.4" y="532.5" font-size="13.4" fill="#000" textLength="45.4" lengthAdjust="spacingAndGlyphs">2574.00</text>
<path d="M1613.3 542.7 L1618.8 533.9 L1677 533.9 L1677 551.4 L1618.8 551.4 Z" fill="#3c96f5" stroke="#000" stroke-width="1" stroke-linejoin="miter"/>
<line x1="1618.8" y1="533.9" x2="1618.8" y2="551.4" stroke="#000" stroke-width="1"/>
<text x="1621.4" y="547.6" font-size="13.4" fill="#000" textLength="45.4" lengthAdjust="spacingAndGlyphs">2558.00</text>
<path d="M1613.3 691.0 L1618.8 682.2 L1677 682.2 L1677 699.8 L1618.8 699.8 Z" fill="#ff0000" stroke="#000" stroke-width="1" stroke-linejoin="miter"/>
<line x1="1618.8" y1="682.2" x2="1618.8" y2="699.8" stroke="#000" stroke-width="1"/>
<text x="1621.4" y="695.9" font-size="13.4" fill="#fff" textLength="51.6" lengthAdjust="spacingAndGlyphs">-23.2586</text>
<path d="M1613.3 679.0 L1618.8 670.2 L1677 670.2 L1677 687.8 L1618.8 687.8 Z" fill="#000" stroke="#000" stroke-width="1" stroke-linejoin="miter"/>
<line x1="1618.8" y1="670.2" x2="1618.8" y2="687.8" stroke="#000" stroke-width="1"/>
<text x="1621.4" y="683.9" font-size="13.4" fill="#fff" textLength="51.6" lengthAdjust="spacingAndGlyphs">-12.9985</text>
<g shape-rendering="crispEdges">
<rect x="0" y="591" width="1676" height="11" fill="#4a4a4a"/>
<rect x="0" y="591" width="1676" height="1" fill="#222"/>
<rect x="0" y="601" width="1676" height="1" fill="#222"/>
<rect x="0" y="595" width="1676" height="3" fill="#1c1c1c"/>
<rect x="0" y="596" width="1676" height="1" fill="#fff"/>
<rect x="5" y="595" width="122" height="3" fill="#000"/>
<rect x="1614" y="596" width="62" height="1" fill="#6ccc00"/>
<rect x="1589" y="596" width="2" height="1" fill="#f00"/>
<rect x="831" y="592" width="14" height="1" fill="#bdbdbd"/>
<rect x="831" y="594" width="14" height="1" fill="#bdbdbd"/>
<rect x="831" y="598" width="14" height="1" fill="#bdbdbd"/>
<rect x="831" y="600" width="14" height="1" fill="#bdbdbd"/>
</g>
<rect x="3.5" y="3.5" width="239" height="127" rx="4.5" ry="4.5" fill="#e2e2e2" fill-opacity="0.52" stroke="#000" stroke-width="1.1"/>
<text x="37.1" y="24.7" font-size="13.4" fill="#000" textLength="61.9" lengthAdjust="spacingAndGlyphs">Last Price</text>
<text x="182.2" y="24.7" font-size="13.4" fill="#000" textLength="45.9" lengthAdjust="spacingAndGlyphs">2668.00</text>
<text x="37.1" y="40.7" font-size="13.4" fill="#000" textLength="106.3" lengthAdjust="spacingAndGlyphs">High on 05/14/24</text>
<text x="182.2" y="40.7" font-size="13.4" fill="#000" textLength="45.9" lengthAdjust="spacingAndGlyphs">3090.00</text>
<text x="37.1" y="56.7" font-size="13.4" fill="#000" textLength="46.9" lengthAdjust="spacingAndGlyphs">Average</text>
<text x="182.2" y="56.7" font-size="13.4" fill="#000" textLength="52.9" lengthAdjust="spacingAndGlyphs">2850.498</text>
<text x="37.1" y="72.7" font-size="13.4" fill="#000" textLength="103.3" lengthAdjust="spacingAndGlyphs">Low on 08/30/24</text>
<text x="182.2" y="72.7" font-size="13.4" fill="#000" textLength="45.9" lengthAdjust="spacingAndGlyphs">2558.00</text>
<text x="37.1" y="88.7" font-size="13.4" fill="#000" textLength="132.1" lengthAdjust="spacingAndGlyphs">SMAVG (20)&#160;&#160;on Close</text>
<text x="182.2" y="88.7" font-size="13.4" fill="#000" textLength="45.9" lengthAdjust="spacingAndGlyphs">2649.80</text>
<text x="37.1" y="104.7" font-size="13.4" fill="#000" textLength="132.1" lengthAdjust="spacingAndGlyphs">SMAVG (30)&#160;&#160;on Close</text>
<text x="182.2" y="104.7" font-size="13.4" fill="#000" textLength="52.9" lengthAdjust="spacingAndGlyphs">2672.267</text>
<text x="37.1" y="120.7" font-size="13.4" fill="#000" textLength="139.1" lengthAdjust="spacingAndGlyphs">SMAVG (200)&#160;&#160;on Close</text>
<text x="182.2" y="120.7" font-size="13.4" fill="#000" textLength="45.9" lengthAdjust="spacingAndGlyphs">2859.34</text>
<rect x="21.1" y="13.3" width="12.1" height="11.7" fill="#000"/>
<rect x="21.1" y="77.3" width="12.1" height="11.7" fill="#e6009c"/>
<rect x="21.1" y="93.3" width="12.1" height="11.7" fill="#7dfa8c"/>
<rect x="21.1" y="109.3" width="12.1" height="11.7" fill="#a09600"/>
<g stroke="#777" stroke-width="1" fill="none" shape-rendering="crispEdges">
<line x1="14.5" y1="22" x2="14.5" y2="116"/>
<line x1="14.5" y1="35.5" x2="18" y2="35.5"/>
<line x1="14.5" y1="51.5" x2="18" y2="51.5"/>
<line x1="14.5" y1="67.5" x2="18" y2="67.5"/>
<line x1="14.5" y1="83.5" x2="18" y2="83.5"/>
<line x1="14.5" y1="99.5" x2="18" y2="99.5"/>
<line x1="14.5" y1="115.5" x2="18" y2="115.5"/>
<rect x="11.5" y="15.5" width="6" height="6" fill="#f0f0f0"/>
<line x1="13" y1="18.5" x2="16" y2="18.5"/>
</g>
<path d="M24 28.8 H30.6 V30.2 L27.8 31.6 V40.6 H26.8 V31.6 L24 30.2 Z" fill="#777"/>
<path d="M21.4 51.5 H33.2" stroke="#777" stroke-width="1" shape-rendering="crispEdges"/>
<path d="M27.3 49.3 L29.5 51.5 L27.3 53.7 L25.1 51.5 Z" fill="#e8e8e8" stroke="#777" stroke-width="0.9"/>
<path d="M24 72.8 H30.6 V71.4 L27.8 70 V61.4 H26.8 V70 L24 71.4 Z" fill="#777"/>
<rect x="721.5" y="683.5" width="168" height="63" rx="4.5" ry="4.5" fill="#e2e2e2" fill-opacity="0.52" stroke="#000" stroke-width="1.1"/>
<text x="783.4" y="704.4" font-size="13.4" fill="#000" textLength="44.3" lengthAdjust="spacingAndGlyphs">MOL HB</text>
<text x="746.0" y="720.0" font-size="13.4" fill="#000" textLength="75.2" lengthAdjust="spacingAndGlyphs">MACD(12,26)</text>
<text x="746.0" y="736.0" font-size="13.4" fill="#000" textLength="37.5" lengthAdjust="spacingAndGlyphs">Sig(9)</text>
<text x="829.6" y="720.0" font-size="13.4" fill="#000" textLength="52.1" lengthAdjust="spacingAndGlyphs">-12.9985</text>
<text x="829.6" y="736.0" font-size="13.4" fill="#000" textLength="52.1" lengthAdjust="spacingAndGlyphs">-23.2586</text>
<rect x="730" y="709.2" width="12" height="11.8" fill="#000"/>
<rect x="730" y="725.2" width="12" height="11.6" fill="#f00"/>
<text x="103.0" y="764.8" font-size="13.4" fill="#000" textLength="19.7" lengthAdjust="spacingAndGlyphs">Oct</text>
<text x="232.6" y="764.8" font-size="13.4" fill="#000" textLength="20.8" lengthAdjust="spacingAndGlyphs">Nov</text>
<text x="355.2" y="764.8" font-size="13.4" fill="#000" textLength="21.3" lengthAdjust="spacingAndGlyphs">Dec</text>
<text x="483.0" y="764.8" font-size="13.4" fill="#000" textLength="20.8" lengthAdjust="spacingAndGlyphs">Jan</text>
<text x="615.9" y="764.8" font-size="13.4" fill="#000" textLength="20.8" lengthAdjust="spacingAndGlyphs">Feb</text>
<text x="739.9" y="764.8" font-size="13.4" fill="#000" textLength="20.8" lengthAdjust="spacingAndGlyphs">Mar</text>
<text x="864.2" y="764.8" font-size="13.4" fill="#000" textLength="18.3" lengthAdjust="spacingAndGlyphs">Apr</text>
<text x="992.5" y="764.8" font-size="13.4" fill="#000" textLength="22.1" lengthAdjust="spacingAndGlyphs">May</text>
<text x="1120.3" y="764.8" font-size="13.4" fill="#000" textLength="20.2" lengthAdjust="spacingAndGlyphs">Jun</text>
<text x="1255.4" y="764.8" font-size="13.4" fill="#000" textLength="18.0" lengthAdjust="spacingAndGlyphs">Jul</text>
<text x="1387.4" y="764.8" font-size="13.4" fill="#000" textLength="20.2" lengthAdjust="spacingAndGlyphs">Aug</text>
<text x="1512.8" y="764.8" font-size="13.4" fill="#000" textLength="21.3" lengthAdjust="spacingAndGlyphs">Sep</text>
<text x="213.0" y="781.0" font-size="13.4" fill="#000" text-anchor="middle" textLength="27.6" lengthAdjust="spacingAndGlyphs">2023</text>
<text x="1019.3" y="781.0" font-size="13.4" fill="#000" text-anchor="middle" textLength="27.6" lengthAdjust="spacingAndGlyphs">2024</text>
<text x="2.5" y="798.0" font-size="12.6" fill="#000" textLength="488.0" lengthAdjust="spacingAndGlyphs">MOL HB Equity (MOL Hungarian Oil &amp; Gas PLC) mol c&#160;&#160;Daily 30JUL2023-30SEP2024</text>
<text x="896.0" y="798.0" font-size="12.6" fill="#000" textLength="240.0" lengthAdjust="spacingAndGlyphs">Copyright&#169; 2024 Bloomberg Finance L.P.</text>
<text x="1672.0" y="798.0" font-size="12.6" fill="#000" text-anchor="end" textLength="131.0" lengthAdjust="spacingAndGlyphs">30-Sep-2024 10:54:26</text>
</svg></body></html>
